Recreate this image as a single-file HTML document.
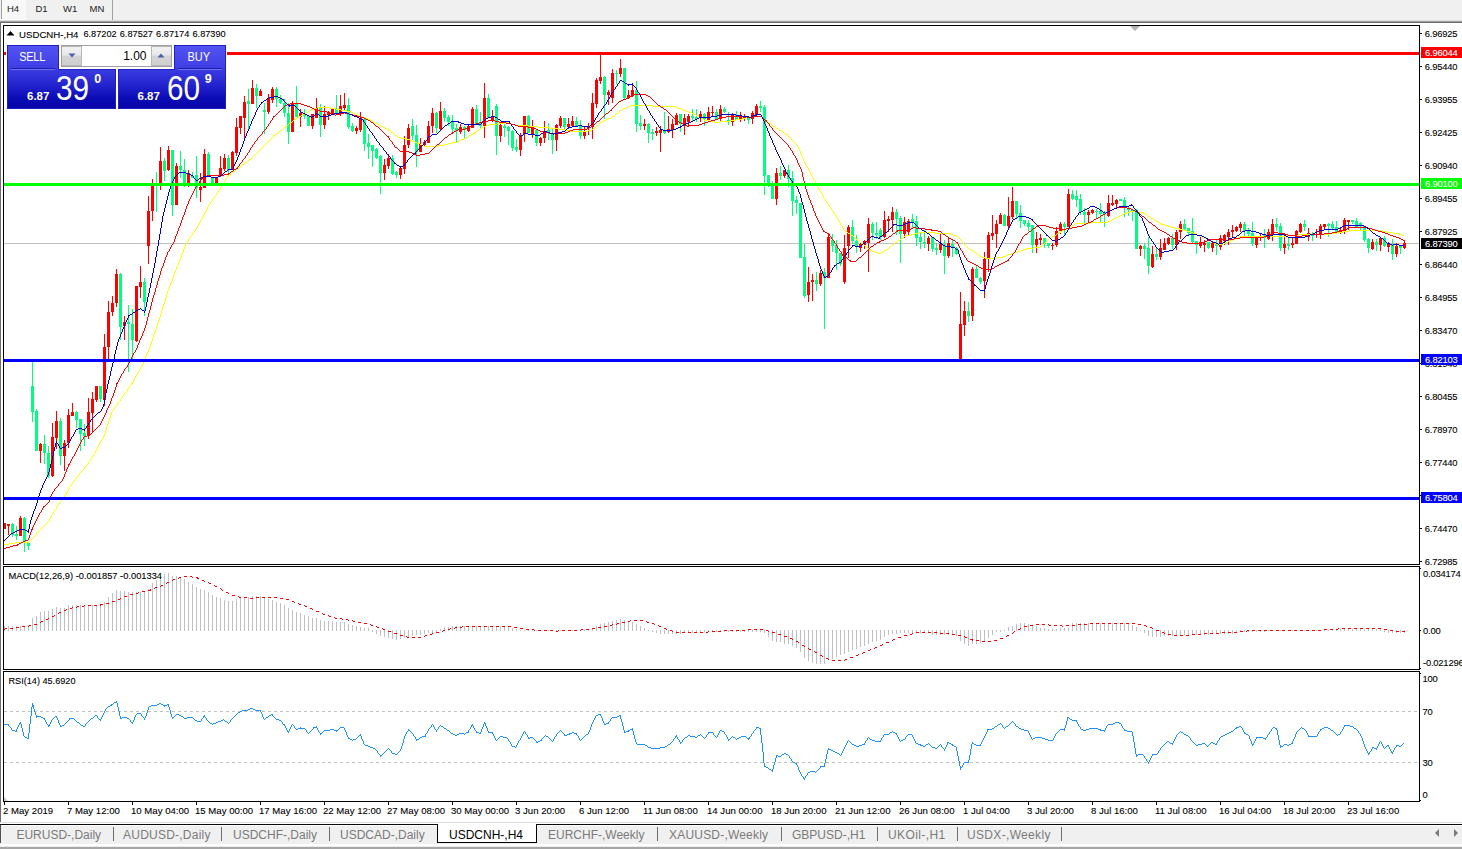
<!DOCTYPE html>
<html><head><meta charset="utf-8"><title>USDCNH-,H4</title>
<style>
html,body{margin:0;padding:0;overflow:hidden;}
body{width:1462px;height:849px;overflow:hidden;background:#fff;font-family:"Liberation Sans",sans-serif;position:relative;color:#000;}
.abs{position:absolute;}
.tb{position:absolute;left:0;top:0;width:1462px;height:20px;background:#f0f0f0;}
.tf{position:absolute;top:2.9px;font-size:9.5px;color:#222;white-space:pre;line-height:11px;}
.ax{position:absolute;left:1424.8px;font-size:9.4px;letter-spacing:-0.2px;line-height:10px;white-space:pre;color:#000;-webkit-text-stroke:0.1px #000;}
.tk{position:absolute;left:1420px;width:2px;height:1px;background:#000;}
.pl{position:absolute;left:1421px;width:41px;height:11px;font-size:9.4px;letter-spacing:-0.2px;line-height:11px;color:#fff;white-space:pre;-webkit-text-stroke:0.1px #fff;}
.pl span{position:absolute;left:4px;top:0;}
.tl{position:absolute;top:804.6px;font-size:9.6px;line-height:11px;white-space:pre;color:#000;-webkit-text-stroke:0.1px #000;}
.tt{position:absolute;top:801px;width:1px;height:4px;background:#000;}
.lbl{position:absolute;font-size:9.3px;line-height:11px;white-space:pre;color:#000;-webkit-text-stroke:0.1px #000;}
.tab{position:absolute;top:827.9px;font-size:12px;line-height:14px;color:#7a7a7a;white-space:pre;}
.sep{position:absolute;top:827px;width:1px;height:14px;background:#6e6e6e;}
</style></head><body>

<div class="tb"></div>
<div class="abs" style="left:1px;top:0;width:1px;height:19px;background:#a0a0a0"></div>
<div class="abs" style="left:2px;top:0;width:24px;height:19px;background:#f8f8f8"></div>
<div class="abs" style="left:0;top:19px;width:27px;height:2px;background:#fafafa"></div>
<div class="abs" style="left:112px;top:0;width:1px;height:21px;background:#a0a0a0"></div>
<div class="tf" style="left:7px">H4</div>
<div class="tf" style="left:35.5px">D1</div>
<div class="tf" style="left:63px">W1</div>
<div class="tf" style="left:89.5px">MN</div>
<div class="abs" style="left:0;top:20px;width:1462px;height:1px;background:#dcdcdc"></div>
<div class="abs" style="left:0;top:21px;width:1462px;height:1px;background:#a0a0a0"></div>
<div class="abs" style="left:0;top:22px;width:1462px;height:1px;background:#696969"></div>
<div class="abs" style="left:0;top:23px;width:1px;height:799px;background:#6e6e6e"></div>
<div class="abs" style="left:3px;top:25px;width:1417px;height:1px;background:#000"></div>
<div class="abs" style="left:3px;top:564px;width:1417px;height:1px;background:#000"></div>
<div class="abs" style="left:3px;top:25px;width:1px;height:540px;background:#000"></div>
<div class="abs" style="left:1419px;top:25px;width:1px;height:540px;background:#000"></div>
<div class="abs" style="left:3px;top:566px;width:1417px;height:1px;background:#000"></div>
<div class="abs" style="left:3px;top:669px;width:1417px;height:1px;background:#000"></div>
<div class="abs" style="left:3px;top:566px;width:1px;height:104px;background:#000"></div>
<div class="abs" style="left:1419px;top:566px;width:1px;height:104px;background:#000"></div>
<div class="abs" style="left:3px;top:671px;width:1417px;height:1px;background:#000"></div>
<div class="abs" style="left:3px;top:801px;width:1417px;height:1px;background:#000"></div>
<div class="abs" style="left:3px;top:671px;width:1px;height:131px;background:#000"></div>
<div class="abs" style="left:1419px;top:671px;width:1px;height:131px;background:#000"></div>
<svg class="abs" style="left:0;top:0" width="1462" height="849" viewBox="0 0 1462 849" shape-rendering="crispEdges">
<defs><clipPath id="cm"><rect x="4" y="26" width="1415" height="538"/></clipPath></defs>
<g clip-path="url(#cm)">
<rect x="4" y="243" width="1415" height="1" fill="#c0c0c0"/>
<path fill="#00ff7f" d="M12 523h1v14h-1zM11 524h3v11h-3zM16 526h1v14h-1zM15 534h3v2h-3zM24 517h1v35h-1zM23 518h3v24h-3zM28 542h1v8h-1zM27 543h3v3h-3zM32 362h1v60h-1zM31 386h3v26h-3zM36 409h1v42h-1zM35 411h3v40h-3zM44 435h1v29h-1zM43 444h3v9h-3zM48 446h1v32h-1zM47 453h3v23h-3zM60 418h1v47h-1zM59 421h3v35h-3zM76 411h1v17h-1zM75 412h3v8h-3zM80 419h1v32h-1zM79 419h3v15h-3zM84 424h1v22h-1zM83 433h3v3h-3zM100 386h1v16h-1zM99 386h3v13h-3zM120 273h1v67h-1zM119 274h3v53h-3zM128 305h1v67h-1zM127 322h3v2h-3zM132 309h1v53h-1zM131 324h3v16h-3zM144 278h1v38h-1zM143 282h3v20h-3zM156 172h1v40h-1zM155 184h3v2h-3zM164 158h1v23h-1zM163 161h3v10h-3zM172 150h1v66h-1zM171 150h3v55h-3zM180 151h1v27h-1zM179 166h3v4h-3zM184 159h1v28h-1zM183 170h3v14h-3zM192 172h1v6h-1zM191 176h3v2h-3zM196 156h1v42h-1zM195 175h3v13h-3zM208 152h1v24h-1zM207 154h3v22h-3zM212 177h1v7h-1zM211 177h3v7h-3zM228 155h1v21h-1zM227 158h3v12h-3zM248 89h1v40h-1zM247 101h3v3h-3zM256 84h1v24h-1zM255 88h3v8h-3zM264 103h1v31h-1zM263 110h3v2h-3zM276 87h1v20h-1zM275 89h3v10h-3zM280 95h1v9h-1zM279 99h3v4h-3zM284 99h1v18h-1zM283 103h3v10h-3zM288 103h1v41h-1zM287 113h3v19h-3zM296 86h1v31h-1zM295 103h3v14h-3zM304 109h1v10h-1zM303 114h3v2h-3zM308 116h1v10h-1zM307 116h3v10h-3zM320 104h1v33h-1zM319 108h3v17h-3zM336 95h1v19h-1zM335 109h3v5h-3zM348 98h1v31h-1zM347 105h3v22h-3zM352 123h1v9h-1zM351 126h3v5h-3zM364 119h1v32h-1zM363 119h3v25h-3zM368 134h1v25h-1zM367 143h3v4h-3zM372 145h1v22h-1zM371 145h3v6h-3zM376 148h1v11h-1zM375 149h3v9h-3zM380 155h1v39h-1zM379 156h3v17h-3zM392 155h1v20h-1zM391 158h3v16h-3zM396 171h1v7h-1zM395 172h3v3h-3zM412 119h1v21h-1zM411 126h3v10h-3zM416 125h1v42h-1zM415 135h3v17h-3zM436 112h1v21h-1zM435 113h3v15h-3zM444 108h1v14h-1zM443 111h3v7h-3zM448 115h1v11h-1zM447 117h3v5h-3zM452 115h1v18h-1zM451 122h3v7h-3zM456 124h1v18h-1zM455 128h3v3h-3zM464 126h1v12h-1zM463 127h3v3h-3zM476 105h1v19h-1zM475 109h3v15h-3zM480 112h1v17h-1zM479 122h3v4h-3zM488 94h1v24h-1zM487 98h3v20h-3zM496 104h1v51h-1zM495 106h3v30h-3zM504 124h1v13h-1zM503 126h3v2h-3zM508 126h1v19h-1zM507 127h3v4h-3zM512 130h1v21h-1zM511 131h3v17h-3zM516 139h1v13h-1zM515 147h3v3h-3zM528 115h1v18h-1zM527 116h3v17h-3zM536 129h1v17h-1zM535 130h3v13h-3zM548 123h1v17h-1zM547 130h3v3h-3zM552 129h1v25h-1zM551 134h3v6h-3zM564 118h1v11h-1zM563 118h3v9h-3zM576 117h1v10h-1zM575 121h3v5h-3zM580 120h1v19h-1zM579 126h3v10h-3zM604 76h1v43h-1zM603 77h3v18h-3zM616 70h1v14h-1zM615 73h3v1h-3zM624 68h1v31h-1zM623 68h3v30h-3zM636 81h1v51h-1zM635 90h3v34h-3zM640 115h1v15h-1zM639 123h3v3h-3zM648 123h1v20h-1zM647 124h3v9h-3zM652 129h1v11h-1zM651 132h3v2h-3zM664 112h1v22h-1zM663 130h3v3h-3zM680 114h1v18h-1zM679 114h3v10h-3zM692 109h1v12h-1zM691 116h3v2h-3zM696 109h1v13h-1zM695 117h3v2h-3zM704 113h1v13h-1zM703 114h3v5h-3zM716 109h1v10h-1zM715 112h3v7h-3zM724 107h1v6h-1zM723 109h3v3h-3zM728 112h1v13h-1zM727 120h3v1h-3zM736 111h1v9h-1zM735 115h3v5h-3zM748 116h1v8h-1zM747 118h3v2h-3zM760 101h1v11h-1zM759 106h3v2h-3zM764 105h1v90h-1zM763 107h3v69h-3zM768 175h1v12h-1zM767 175h3v11h-3zM772 181h1v18h-1zM771 186h3v13h-3zM780 166h1v14h-1zM779 173h3v3h-3zM788 165h1v22h-1zM787 170h3v9h-3zM792 171h1v45h-1zM791 178h3v23h-3zM796 196h1v18h-1zM795 200h3v3h-3zM800 203h1v55h-1zM799 203h3v55h-3zM804 244h1v54h-1zM803 257h3v39h-3zM816 272h1v19h-1zM815 280h3v4h-3zM824 268h1v61h-1zM823 272h3v6h-3zM832 234h1v18h-1zM831 240h3v6h-3zM836 240h1v30h-1zM835 245h3v8h-3zM840 253h1v13h-1zM839 253h3v11h-3zM852 220h1v24h-1zM851 227h3v14h-3zM856 235h1v18h-1zM855 241h3v5h-3zM872 222h1v18h-1zM871 224h3v9h-3zM876 222h1v17h-1zM875 233h3v2h-3zM880 228h1v12h-1zM879 230h3v7h-3zM896 209h1v26h-1zM895 212h3v7h-3zM900 216h1v47h-1zM899 218h3v16h-3zM912 214h1v14h-1zM911 219h3v3h-3zM916 216h1v30h-1zM915 221h3v17h-3zM920 232h1v17h-1zM919 237h3v5h-3zM924 230h1v18h-1zM923 242h3v2h-3zM932 237h1v15h-1zM931 237h3v12h-3zM936 243h1v12h-1zM935 248h3v2h-3zM944 240h1v34h-1zM943 244h3v12h-3zM952 240h1v17h-1zM951 244h3v3h-3zM956 247h1v8h-1zM955 248h3v6h-3zM968 302h1v20h-1zM967 311h3v5h-3zM976 265h1v13h-1zM975 269h3v9h-3zM980 277h1v7h-1zM979 278h3v4h-3zM1004 214h1v12h-1zM1003 215h3v11h-3zM1016 201h1v17h-1zM1015 201h3v13h-3zM1020 205h1v23h-1zM1019 213h3v8h-3zM1024 220h1v6h-1zM1023 220h3v4h-3zM1028 220h1v11h-1zM1027 223h3v4h-3zM1032 225h1v28h-1zM1031 225h3v20h-3zM1044 238h1v10h-1zM1043 238h3v6h-3zM1048 243h1v5h-1zM1047 243h3v3h-3zM1064 222h1v14h-1zM1063 224h3v3h-3zM1072 190h1v10h-1zM1071 194h3v5h-3zM1076 190h1v17h-1zM1075 196h3v4h-3zM1080 194h1v21h-1zM1079 199h3v13h-3zM1084 208h1v15h-1zM1083 212h3v3h-3zM1096 209h1v10h-1zM1095 211h3v1h-3zM1100 203h1v19h-1zM1099 211h3v3h-3zM1104 211h1v16h-1zM1103 212h3v2h-3zM1120 199h1v2h-1zM1119 199h3v2h-3zM1124 197h1v20h-1zM1123 200h3v7h-3zM1128 207h1v9h-1zM1127 208h3v2h-3zM1132 209h1v12h-1zM1131 210h3v2h-3zM1136 209h1v40h-1zM1135 210h3v39h-3zM1144 243h1v16h-1zM1143 246h3v3h-3zM1148 237h1v37h-1zM1147 248h3v18h-3zM1156 247h1v13h-1zM1155 254h3v3h-3zM1172 234h1v15h-1zM1171 238h3v7h-3zM1184 219h1v12h-1zM1183 224h3v5h-3zM1188 228h1v8h-1zM1187 228h3v5h-3zM1192 218h1v25h-1zM1191 231h3v11h-3zM1196 241h1v13h-1zM1195 241h3v4h-3zM1208 242h1v7h-1zM1207 242h3v6h-3zM1216 240h1v15h-1zM1215 244h3v2h-3zM1244 222h1v14h-1zM1243 224h3v7h-3zM1248 228h1v8h-1zM1247 231h3v3h-3zM1252 222h1v24h-1zM1251 233h3v11h-3zM1264 229h1v19h-1zM1263 234h3v4h-3zM1276 218h1v13h-1zM1275 224h3v3h-3zM1280 223h1v28h-1zM1279 226h3v22h-3zM1288 238h1v12h-1zM1287 244h3v2h-3zM1304 220h1v11h-1zM1303 224h3v3h-3zM1312 232h1v9h-1zM1311 234h3v2h-3zM1328 223h1v14h-1zM1327 224h3v2h-3zM1332 221h1v8h-1zM1331 224h3v4h-3zM1336 221h1v11h-1zM1335 227h3v5h-3zM1352 220h1v4h-1zM1351 220h3v2h-3zM1356 218h1v9h-1zM1355 221h3v6h-3zM1360 222h1v8h-1zM1359 223h3v3h-3zM1364 226h1v16h-1zM1363 226h3v14h-3zM1368 238h1v15h-1zM1367 239h3v9h-3zM1376 239h1v12h-1zM1375 242h3v3h-3zM1384 236h1v11h-1zM1383 238h3v8h-3zM1392 239h1v21h-1zM1391 244h3v10h-3zM1400 245h1v9h-1zM1399 246h3v2h-3z"/>
<path fill="#ff0000" d="M4 523h1v6h-1zM3 523h3v6h-3zM8 524h1v11h-1zM7 524h3v2h-3zM20 516h1v20h-1zM19 518h3v18h-3zM40 443h1v20h-1zM39 444h3v7h-3zM52 423h1v54h-1zM51 437h3v39h-3zM56 411h1v38h-1zM55 421h3v17h-3zM64 440h1v31h-1zM63 443h3v13h-3zM68 409h1v39h-1zM67 415h3v28h-3zM72 403h1v13h-1zM71 412h3v4h-3zM88 398h1v41h-1zM87 412h3v24h-3zM92 392h1v41h-1zM91 399h3v14h-3zM96 386h1v16h-1zM95 386h3v14h-3zM104 334h1v72h-1zM103 347h3v53h-3zM108 301h1v58h-1zM107 312h3v35h-3zM112 296h1v20h-1zM111 303h3v9h-3zM116 269h1v38h-1zM115 274h3v29h-3zM124 316h1v24h-1zM123 322h3v4h-3zM136 286h1v56h-1zM135 286h3v55h-3zM140 266h1v32h-1zM139 282h3v5h-3zM148 196h1v68h-1zM147 211h3v35h-3zM152 179h1v42h-1zM151 186h3v25h-3zM160 147h1v43h-1zM159 161h3v25h-3zM168 146h1v25h-1zM167 150h3v20h-3zM176 163h1v42h-1zM175 166h3v39h-3zM188 170h1v17h-1zM187 173h3v11h-3zM200 173h1v29h-1zM199 187h3v3h-3zM204 149h1v39h-1zM203 154h3v34h-3zM216 177h1v7h-1zM215 177h3v7h-3zM220 156h1v20h-1zM219 168h3v8h-3zM224 154h1v17h-1zM223 158h3v11h-3zM232 151h1v19h-1zM231 152h3v18h-3zM236 118h1v38h-1zM235 127h3v26h-3zM240 116h1v18h-1zM239 116h3v12h-3zM244 96h1v44h-1zM243 102h3v16h-3zM252 80h1v24h-1zM251 88h3v16h-3zM260 89h1v7h-1zM259 91h3v5h-3zM268 94h1v20h-1zM267 98h3v14h-3zM272 87h1v16h-1zM271 89h3v11h-3zM292 101h1v31h-1zM291 103h3v29h-3zM300 109h1v18h-1zM299 113h3v4h-3zM312 114h1v15h-1zM311 114h3v12h-3zM316 98h1v20h-1zM315 108h3v10h-3zM324 106h1v23h-1zM323 114h3v11h-3zM328 111h1v9h-1zM327 113h3v2h-3zM332 109h1v6h-1zM331 109h3v6h-3zM340 95h1v21h-1zM339 106h3v8h-3zM344 93h1v18h-1zM343 105h3v3h-3zM356 126h1v8h-1zM355 128h3v3h-3zM360 112h1v20h-1zM359 118h3v12h-3zM384 159h1v21h-1zM383 165h3v8h-3zM388 154h1v15h-1zM387 158h3v8h-3zM400 167h1v12h-1zM399 168h3v7h-3zM404 136h1v38h-1zM403 145h3v24h-3zM408 124h1v24h-1zM407 128h3v17h-3zM420 138h1v14h-1zM419 144h3v8h-3zM424 140h1v6h-1zM423 142h3v3h-3zM428 121h1v22h-1zM427 126h3v17h-3zM432 108h1v25h-1zM431 113h3v13h-3zM440 102h1v28h-1zM439 111h3v18h-3zM460 124h1v10h-1zM459 127h3v5h-3zM468 124h1v8h-1zM467 126h3v5h-3zM472 107h1v21h-1zM471 109h3v19h-3zM484 83h1v55h-1zM483 98h3v28h-3zM492 110h1v12h-1zM491 117h3v4h-3zM500 124h1v18h-1zM499 125h3v11h-3zM520 133h1v23h-1zM519 135h3v15h-3zM524 116h1v26h-1zM523 116h3v18h-3zM532 120h1v18h-1zM531 127h3v7h-3zM540 137h1v9h-1zM539 138h3v5h-3zM544 121h1v22h-1zM543 131h3v7h-3zM556 124h1v27h-1zM555 125h3v15h-3zM560 116h1v12h-1zM559 118h3v8h-3zM568 118h1v11h-1zM567 124h3v3h-3zM572 116h1v10h-1zM571 121h3v5h-3zM584 127h1v12h-1zM583 131h3v5h-3zM588 123h1v12h-1zM587 126h3v2h-3zM592 93h1v46h-1zM591 103h3v24h-3zM596 78h1v30h-1zM595 80h3v24h-3zM600 55h1v29h-1zM599 77h3v4h-3zM608 90h1v15h-1zM607 92h3v3h-3zM612 69h1v34h-1zM611 73h3v25h-3zM620 59h1v18h-1zM619 68h3v6h-3zM628 90h1v9h-1zM627 95h3v3h-3zM632 83h1v14h-1zM631 90h3v6h-3zM644 119h1v11h-1zM643 124h3v2h-3zM656 127h1v9h-1zM655 131h3v2h-3zM660 126h1v26h-1zM659 130h3v3h-3zM668 116h1v17h-1zM667 129h3v3h-3zM672 119h1v19h-1zM671 124h3v6h-3zM676 113h1v12h-1zM675 115h3v10h-3zM684 114h1v21h-1zM683 118h3v7h-3zM688 114h1v12h-1zM687 116h3v6h-3zM700 111h1v11h-1zM699 114h3v4h-3zM708 107h1v13h-1zM707 112h3v8h-3zM712 106h1v10h-1zM711 112h3v1h-3zM720 105h1v16h-1zM719 109h3v10h-3zM732 113h1v13h-1zM731 115h3v7h-3zM740 112h1v10h-1zM739 116h3v3h-3zM744 114h1v7h-1zM743 116h3v2h-3zM752 111h1v13h-1zM751 113h3v6h-3zM756 104h1v11h-1zM755 106h3v9h-3zM776 168h1v37h-1zM775 173h3v26h-3zM784 170h1v8h-1zM783 170h3v6h-3zM808 267h1v35h-1zM807 282h3v13h-3zM812 274h1v27h-1zM811 280h3v2h-3zM820 270h1v16h-1zM819 273h3v11h-3zM828 233h1v45h-1zM827 237h3v41h-3zM844 235h1v49h-1zM843 248h3v34h-3zM848 225h1v33h-1zM847 227h3v19h-3zM860 243h1v9h-1zM859 244h3v4h-3zM864 240h1v9h-1zM863 241h3v4h-3zM868 218h1v54h-1zM867 224h3v19h-3zM884 211h1v27h-1zM883 220h3v17h-3zM888 216h1v16h-1zM887 219h3v2h-3zM892 207h1v25h-1zM891 212h3v8h-3zM904 217h1v21h-1zM903 222h3v12h-3zM908 219h1v16h-1zM907 221h3v11h-3zM928 236h1v15h-1zM927 238h3v6h-3zM940 234h1v19h-1zM939 244h3v6h-3zM948 237h1v21h-1zM947 243h3v13h-3zM960 292h1v67h-1zM959 324h3v35h-3zM964 301h1v35h-1zM963 311h3v14h-3zM972 267h1v54h-1zM971 269h3v47h-3zM984 252h1v46h-1zM983 259h3v22h-3zM988 232h1v40h-1zM987 235h3v24h-3zM992 215h1v25h-1zM991 233h3v3h-3zM996 220h1v28h-1zM995 224h3v10h-3zM1000 213h1v11h-1zM999 215h3v9h-3zM1008 197h1v32h-1zM1007 216h3v10h-3zM1012 187h1v32h-1zM1011 201h3v16h-3zM1036 232h1v21h-1zM1035 239h3v6h-3zM1040 234h1v11h-1zM1039 238h3v2h-3zM1052 243h1v7h-1zM1051 245h3v1h-3zM1056 227h1v20h-1zM1055 231h3v14h-3zM1060 222h1v12h-1zM1059 224h3v7h-3zM1068 189h1v38h-1zM1067 194h3v33h-3zM1088 210h1v12h-1zM1087 212h3v3h-3zM1092 209h1v5h-1zM1091 210h3v3h-3zM1108 195h1v22h-1zM1107 203h3v13h-3zM1112 195h1v11h-1zM1111 203h3v2h-3zM1116 199h1v8h-1zM1115 200h3v4h-3zM1140 245h1v11h-1zM1139 246h3v3h-3zM1152 246h1v22h-1zM1151 254h3v13h-3zM1160 239h1v21h-1zM1159 248h3v9h-3zM1164 238h1v12h-1zM1163 243h3v7h-3zM1168 237h1v8h-1zM1167 238h3v6h-3zM1176 230h1v20h-1zM1175 232h3v13h-3zM1180 221h1v18h-1zM1179 224h3v8h-3zM1200 237h1v11h-1zM1199 242h3v4h-3zM1204 240h1v12h-1zM1203 243h3v2h-3zM1212 242h1v10h-1zM1211 243h3v5h-3zM1220 235h1v15h-1zM1219 238h3v9h-3zM1224 234h1v11h-1zM1223 235h3v6h-3zM1228 229h1v16h-1zM1227 232h3v5h-3zM1232 225h1v13h-1zM1231 230h3v2h-3zM1236 226h1v6h-1zM1235 227h3v4h-3zM1240 222h1v10h-1zM1239 224h3v4h-3zM1256 236h1v12h-1zM1255 237h3v8h-3zM1260 234h1v7h-1zM1259 237h3v1h-3zM1268 229h1v11h-1zM1267 232h3v7h-3zM1272 219h1v22h-1zM1271 224h3v10h-3zM1284 233h1v21h-1zM1283 244h3v4h-3zM1292 238h1v10h-1zM1291 243h3v2h-3zM1296 230h1v14h-1zM1295 231h3v13h-3zM1300 223h1v10h-1zM1299 224h3v8h-3zM1308 228h1v13h-1zM1307 233h3v4h-3zM1316 229h1v9h-1zM1315 234h3v1h-3zM1320 224h1v15h-1zM1319 226h3v8h-3zM1324 224h1v5h-1zM1323 224h3v3h-3zM1340 228h1v6h-1zM1339 230h3v2h-3zM1344 218h1v16h-1zM1343 220h3v11h-3zM1348 220h1v10h-1zM1347 220h3v2h-3zM1372 239h1v11h-1zM1371 242h3v7h-3zM1380 237h1v14h-1zM1379 238h3v7h-3zM1388 242h1v10h-1zM1387 243h3v4h-3zM1396 243h1v14h-1zM1395 246h3v8h-3zM1404 241h1v8h-1zM1403 243h3v5h-3z"/>
<path fill="#ffff00" d="M628 106h2v1h-2zM653 106h23v1h-23zM1130 211h8v1h-8zM848 233h2v1h-2zM915 233h4v1h-4zM935 233h16v1h-16zM1057 233h2v1h-2zM1193 233h3v1h-3zM1329 233h8v1h-8zM1393 233h6v1h-6zM904 236h2v1h-2zM956 236h2v1h-2zM1052 236h2v1h-2zM1201 236h2v1h-2zM1240 236h46v1h-46zM15 542h14v1h-14zM276 133h2v1h-2zM473 133h2v1h-2zM784 133h2v1h-2zM311 109h2v1h-2zM336 109h5v1h-5zM681 109h2v1h-2zM385 128h2v1h-2zM480 128h2v1h-2zM550 128h9v1h-9zM593 128h2v1h-2zM776 128h2v1h-2zM571 131h17v1h-17zM781 131h2v1h-2zM284 127h2v1h-2zM383 127h2v1h-2zM482 127h2v1h-2zM538 127h12v1h-12zM370 120h2v1h-2zM604 120h2v1h-2zM704 120h5v1h-5zM730 120h6v1h-6zM765 120h2v1h-2zM1072 225h2v1h-2zM1165 225h3v1h-3zM1090 222h18v1h-18zM1158 222h2v1h-2zM1216 244h7v1h-7zM299 116h2v1h-2zM359 116h3v1h-3zM612 116h2v1h-2zM752 116h10v1h-10zM982 257h3v1h-3zM997 257h6v1h-6zM911 234h4v1h-4zM951 234h2v1h-2zM1196 234h2v1h-2zM1298 234h31v1h-31zM1399 234h3v1h-3zM406 139h4v1h-4zM461 139h3v1h-3zM280 130h2v1h-2zM388 130h2v1h-2zM477 130h2v1h-2zM565 130h6v1h-6zM588 130h4v1h-4zM779 130h2v1h-2zM630 105h23v1h-23zM317 107h13v1h-13zM626 107h2v1h-2zM676 107h2v1h-2zM424 146h3v1h-3zM428 146h10v1h-10zM1161 224h4v1h-4zM391 132h2v1h-2zM474 132h2v1h-2zM985 258h12v1h-12zM1033 247h7v1h-7zM1114 218h2v1h-2zM1151 218h2v1h-2zM1075 223h15v1h-15zM1160 223h2v1h-2zM895 242h2v1h-2zM1225 242h3v1h-3zM851 235h2v1h-2zM906 235h5v1h-5zM953 235h3v1h-3zM1054 235h2v1h-2zM1198 235h3v1h-3zM1285 235h13v1h-13zM1402 235h2v1h-2zM294 119h2v1h-2zM368 119h2v1h-2zM606 119h2v1h-2zM736 119h6v1h-6zM1062 230h2v1h-2zM1183 230h4v1h-4zM1349 230h32v1h-32zM9 543h6v1h-6zM1211 241h2v1h-2zM1228 241h2v1h-2zM1124 213h3v1h-3zM1143 213h2v1h-2zM422 145h2v1h-2zM438 145h6v1h-6zM245 162h2v1h-2zM238 167h2v1h-2zM273 135h2v1h-2zM395 135h2v1h-2zM469 135h2v1h-2zM398 137h3v1h-3zM466 137h2v1h-2zM347 111h4v1h-4zM686 111h3v1h-3zM410 140h2v1h-2zM459 140h2v1h-2zM420 144h2v1h-2zM444 144h4v1h-4zM387 129h2v1h-2zM559 129h6v1h-6zM377 124h2v1h-2zM489 124h8v1h-8zM512 124h3v1h-3zM297 117h2v1h-2zM362 117h3v1h-3zM699 117h2v1h-2zM746 117h6v1h-6zM1064 229h2v1h-2zM1179 229h4v1h-4zM309 110h2v1h-2zM341 110h6v1h-6zM620 110h2v1h-2zM683 110h3v1h-3zM415 142h2v1h-2zM452 142h5v1h-5zM306 112h2v1h-2zM351 112h2v1h-2zM689 112h3v1h-3zM602 121h2v1h-2zM709 121h5v1h-5zM720 121h10v1h-10zM304 113h2v1h-2zM353 113h2v1h-2zM616 113h2v1h-2zM692 113h2v1h-2zM381 126h2v1h-2zM484 126h2v1h-2zM529 126h9v1h-9zM773 126h2v1h-2zM249 159h2v1h-2zM379 125h2v1h-2zM486 125h3v1h-3zM515 125h14v1h-14zM898 240h2v1h-2zM1209 240h2v1h-2zM1230 240h3v1h-3zM919 232h16v1h-16zM1059 232h2v1h-2zM1190 232h3v1h-3zM1337 232h6v1h-6zM1387 232h6v1h-6zM412 141h3v1h-3zM457 141h2v1h-2zM1110 220h2v1h-2zM891 245h2v1h-2zM1070 226h2v1h-2zM1168 226h3v1h-3zM295 118h2v1h-2zM365 118h3v1h-3zM608 118h3v1h-3zM701 118h2v1h-2zM742 118h4v1h-4zM875 252h3v1h-3zM881 252h2v1h-2zM974 252h2v1h-2zM1014 252h3v1h-3zM289 123h2v1h-2zM375 123h2v1h-2zM497 123h7v1h-7zM510 123h2v1h-2zM769 123h2v1h-2zM869 249h2v1h-2zM886 249h2v1h-2zM969 249h2v1h-2zM1023 249h4v1h-4zM302 114h2v1h-2zM355 114h2v1h-2zM694 114h2v1h-2zM313 108h4v1h-4zM330 108h6v1h-6zM623 108h3v1h-3zM678 108h3v1h-3zM1026 248h7v1h-7zM845 231h2v1h-2zM1060 231h2v1h-2zM1187 231h3v1h-3zM1343 231h6v1h-6zM1381 231h6v1h-6zM1127 212h3v1h-3zM1138 212h6v1h-6zM861 243h2v1h-2zM1214 243h2v1h-2zM1223 243h2v1h-2zM856 239h2v1h-2zM1207 239h2v1h-2zM1233 239h2v1h-2zM1108 221h2v1h-2zM1156 221h2v1h-2zM1066 228h2v1h-2zM1175 228h5v1h-5zM884 250h2v1h-2zM971 250h2v1h-2zM1020 250h3v1h-3zM980 256h2v1h-2zM1003 256h3v1h-3zM221 185h2v1h-2zM878 253h3v1h-3zM1011 253h3v1h-3zM977 254h2v1h-2zM1008 254h3v1h-3zM865 246h2v1h-2zM1040 246h2v1h-2zM373 122h2v1h-2zM504 122h6v1h-6zM600 122h2v1h-2zM714 122h6v1h-6zM901 238h2v1h-2zM1049 238h2v1h-2zM1205 238h2v1h-2zM1235 238h3v1h-3zM1203 237h2v1h-2zM1238 237h2v1h-2zM1122 214h2v1h-2zM1145 214h2v1h-2zM417 143h3v1h-3zM448 143h4v1h-4zM872 251h3v1h-3zM1017 251h3v1h-3zM1118 216h2v1h-2zM1148 216h2v1h-2zM1068 227h2v1h-2zM1171 227h4v1h-4zM228 175h2v1h-2zM401 138h5v1h-5zM464 138h2v1h-2zM65 494h2v1h-2zM471 134h2v1h-2zM786 134h2v1h-2zM1006 255h2v1h-2zM1116 217h2v1h-2zM1112 219h2v1h-2zM1153 219h2v1h-2zM233 171h2v1h-2zM131 383h2v1h-2zM4 544h5v1h-5zM242 164h2v1h-2zM1120 215h2v1h-2zM357 115h2v1h-2zM696 115h2v1h-2zM149 347h1v2h-1zM218 190h1v2h-1zM815 181h1v2h-1zM798 147h1v2h-1zM273 136h1v1h-1zM114 408h1v1h-1zM58 504h1v1h-1zM153 335h1v3h-1zM61 499h1v2h-1zM808 168h1v2h-1zM126 391h1v1h-1zM199 222h1v2h-1zM50 517h1v2h-1zM85 466h1v1h-1zM121 398h1v1h-1zM790 138h1v1h-1zM133 380h1v2h-1zM270 139h1v1h-1zM597 125h1v1h-1zM45 524h1v1h-1zM961 240h1v1h-1zM110 415h1v3h-1zM261 148h1v1h-1zM171 281h1v2h-1zM863 244h1v1h-1zM77 476h1v1h-1zM195 229h1v2h-1zM3 545h1v1h-1zM797 145h1v2h-1zM840 223h1v2h-1zM800 151h1v3h-1zM162 307h1v3h-1zM105 430h1v4h-1zM150 344h1v3h-1zM174 272h1v3h-1zM889 247h1v1h-1zM829 205h1v2h-1zM837 218h1v1h-1zM775 127h1v1h-1zM211 201h1v1h-1zM109 418h1v3h-1zM154 332h1v3h-1zM166 294h1v4h-1zM615 114h1v1h-1zM178 262h1v3h-1zM190 236h1v2h-1zM893 244h1v1h-1zM170 283h1v3h-1zM833 211h1v2h-1zM811 174h1v2h-1zM157 323h1v3h-1zM241 165h1v1h-1zM897 241h1v1h-1zM230 174h1v1h-1zM137 373h1v2h-1zM804 161h1v2h-1zM183 249h1v3h-1zM703 119h1v1h-1zM104 434h1v2h-1zM1056 234h1v1h-1zM807 166h1v2h-1zM161 310h1v4h-1zM288 124h1v1h-1zM789 137h1v1h-1zM207 207h1v2h-1zM308 111h1v1h-1zM108 421h1v3h-1zM165 298h1v3h-1zM177 265h1v2h-1zM859 241h1v1h-1zM186 242h1v2h-1zM1045 242h1v1h-1zM73 481h1v2h-1zM205 211h1v2h-1zM141 366h1v1h-1zM771 124h1v1h-1zM843 228h1v2h-1zM100 441h1v2h-1zM214 196h1v2h-1zM160 314h1v3h-1zM844 230h1v1h-1zM57 505h1v2h-1zM619 111h1v1h-1zM198 224h1v2h-1zM836 216h1v2h-1zM49 519h1v2h-1zM265 144h1v1h-1zM117 403h1v2h-1zM120 399h1v2h-1zM858 240h1v1h-1zM40 529h1v1h-1zM129 386h1v2h-1zM256 153h1v1h-1zM64 495h1v2h-1zM88 462h1v2h-1zM292 121h1v1h-1zM202 217h1v2h-1zM803 158h1v3h-1zM53 512h1v2h-1zM76 477h1v2h-1zM145 356h1v3h-1zM169 286h1v3h-1zM124 393h1v2h-1zM767 121h1v1h-1zM173 275h1v3h-1zM253 156h1v1h-1zM148 349h1v3h-1zM698 116h1v1h-1zM964 244h1v1h-1zM189 238h1v1h-1zM152 338h1v3h-1zM1155 220h1v1h-1zM225 179h1v2h-1zM965 245h1v1h-1zM156 326h1v3h-1zM854 237h1v1h-1zM172 278h1v3h-1zM599 123h1v1h-1zM979 255h1v1h-1zM185 244h1v3h-1zM151 341h1v3h-1zM221 186h1v1h-1zM224 181h1v2h-1zM810 172h1v2h-1zM140 367h1v2h-1zM132 382h1v1h-1zM99 443h1v2h-1zM44 525h1v1h-1zM903 237h1v1h-1zM260 149h1v1h-1zM56 507h1v2h-1zM32 538h1v1h-1zM275 134h1v1h-1zM71 484h1v2h-1zM136 375h1v1h-1zM232 172h1v1h-1zM888 248h1v1h-1zM103 436h1v2h-1zM279 131h1v1h-1zM831 208h1v2h-1zM839 221h1v2h-1zM107 424h1v3h-1zM236 169h1v1h-1zM60 501h1v1h-1zM84 467h1v2h-1zM164 301h1v3h-1zM762 117h1v1h-1zM87 464h1v1h-1zM111 412h1v3h-1zM217 192h1v1h-1zM168 289h1v2h-1zM272 137h1v1h-1zM123 395h1v1h-1zM67 491h1v1h-1zM263 146h1v1h-1zM181 254h1v3h-1zM806 165h1v1h-1zM79 473h1v2h-1zM147 352h1v2h-1zM809 170h1v2h-1zM94 453h1v1h-1zM197 226h1v2h-1zM791 139h1v1h-1zM850 234h1v1h-1zM192 233h1v2h-1zM397 136h1v1h-1zM792 140h1v1h-1zM864 245h1v1h-1zM184 247h1v2h-1zM251 158h1v1h-1zM842 226h1v2h-1zM1147 215h1v1h-1zM90 459h1v2h-1zM208 205h1v2h-1zM283 128h1v1h-1zM220 187h1v2h-1zM835 214h1v2h-1zM240 166h1v1h-1zM838 219h1v2h-1zM139 369h1v2h-1zM36 533h1v2h-1zM176 267h1v3h-1zM63 497h1v1h-1zM287 125h1v1h-1zM1047 240h1v1h-1zM244 163h1v1h-1zM155 329h1v3h-1zM1051 237h1v1h-1zM227 176h1v2h-1zM805 163h1v2h-1zM159 317h1v3h-1zM143 361h1v3h-1zM70 486h1v1h-1zM135 376h1v2h-1zM102 438h1v2h-1zM175 270h1v2h-1zM163 304h1v3h-1zM267 142h1v1h-1zM802 156h1v2h-1zM42 527h1v1h-1zM772 125h1v1h-1zM614 115h1v1h-1zM258 151h1v1h-1zM203 215h1v2h-1zM180 257h1v3h-1zM54 510h1v2h-1zM146 354h1v2h-1zM158 320h1v3h-1zM119 401h1v1h-1zM39 530h1v1h-1zM966 246h1v1h-1zM66 492h1v2h-1zM131 384h1v1h-1zM98 445h1v2h-1zM967 247h1v1h-1zM255 154h1v1h-1zM476 131h1v1h-1zM468 136h1v1h-1zM188 239h1v2h-1zM860 242h1v1h-1zM97 447h1v2h-1zM167 291h1v3h-1zM31 539h1v1h-1zM216 193h1v2h-1zM1042 245h1v1h-1zM959 238h1v1h-1zM122 396h1v2h-1zM598 124h1v1h-1zM93 454h1v2h-1zM223 183h1v1h-1zM820 191h1v1h-1zM262 147h1v1h-1zM78 475h1v1h-1zM101 440h1v1h-1zM34 536h1v1h-1zM37 532h1v1h-1zM958 237h1v1h-1zM210 202h1v2h-1zM768 122h1v1h-1zM890 246h1v1h-1zM787 135h1v1h-1zM179 260h1v2h-1zM231 173h1v1h-1zM191 235h1v1h-1zM801 154h1v2h-1zM278 132h1v1h-1zM113 409h1v2h-1zM235 170h1v1h-1zM182 252h1v2h-1zM86 465h1v1h-1zM89 461h1v1h-1zM293 120h1v1h-1zM823 196h1v2h-1zM206 209h1v2h-1zM855 238h1v1h-1zM46 523h1v1h-1zM69 487h1v2h-1zM819 189h1v2h-1zM81 471h1v1h-1zM592 129h1v1h-1zM816 183h1v2h-1zM269 140h1v1h-1zM764 119h1v1h-1zM596 126h1v1h-1zM194 231h1v1h-1zM894 243h1v1h-1zM372 121h1v1h-1zM219 189h1v1h-1zM962 241h1v2h-1zM29 541h1v1h-1zM793 141h1v1h-1zM144 359h1v2h-1zM822 194h1v2h-1zM976 253h1v1h-1zM763 118h1v1h-1zM794 142h1v1h-1zM125 392h1v1h-1zM826 201h1v1h-1zM778 129h1v1h-1zM41 528h1v1h-1zM257 152h1v1h-1zM68 489h1v2h-1zM92 456h1v2h-1zM825 199h1v2h-1zM116 405h1v1h-1zM128 388h1v1h-1zM818 187h1v2h-1zM900 239h1v1h-1zM821 192h1v2h-1zM291 122h1v1h-1zM72 483h1v1h-1zM52 514h1v1h-1zM96 449h1v2h-1zM248 160h1v1h-1zM968 248h1v1h-1zM394 134h1v1h-1zM226 178h1v1h-1zM33 537h1v1h-1zM1044 243h1v1h-1zM847 232h1v1h-1zM48 521h1v1h-1zM213 198h1v1h-1zM264 145h1v1h-1zM618 112h1v1h-1zM824 198h1v1h-1zM622 109h1v1h-1zM817 185h1v2h-1zM390 131h1v1h-1zM80 472h1v1h-1zM828 204h1v1h-1zM393 133h1v1h-1zM611 117h1v1h-1zM252 157h1v1h-1zM201 219h1v1h-1zM75 479h1v1h-1zM814 180h1v1h-1zM237 168h1v1h-1zM112 411h1v1h-1zM115 406h1v2h-1zM59 502h1v2h-1zM788 136h1v1h-1zM127 389h1v2h-1zM960 239h1v1h-1zM1074 224h1v1h-1zM83 469h1v1h-1zM95 451h1v2h-1zM799 149h1v2h-1zM268 141h1v1h-1zM795 143h1v1h-1zM813 178h1v2h-1zM595 127h1v1h-1zM43 526h1v1h-1zM832 210h1v1h-1zM55 509h1v1h-1zM796 144h1v1h-1zM193 232h1v1h-1zM209 204h1v1h-1zM106 427h1v3h-1zM871 250h1v1h-1zM1048 239h1v1h-1zM883 251h1v1h-1zM51 515h1v2h-1zM282 129h1v1h-1zM271 138h1v1h-1zM427 147h1v1h-1zM35 535h1v1h-1zM827 202h1v2h-1zM286 126h1v1h-1zM1046 241h1v1h-1zM963 243h1v1h-1zM142 364h1v2h-1zM783 132h1v1h-1zM134 378h1v2h-1zM812 176h1v2h-1zM212 199h1v2h-1zM259 150h1v1h-1zM204 213h1v2h-1zM196 228h1v1h-1zM138 371h1v2h-1zM91 458h1v1h-1zM47 522h1v1h-1zM1213 242h1v1h-1zM118 402h1v1h-1zM62 498h1v1h-1zM301 115h1v1h-1zM200 220h1v2h-1zM853 236h1v1h-1zM1043 244h1v1h-1zM187 241h1v1h-1zM867 247h1v1h-1zM1150 217h1v1h-1zM266 143h1v1h-1zM868 248h1v1h-1zM30 540h1v1h-1zM215 195h1v1h-1zM82 470h1v1h-1zM973 251h1v1h-1zM38 531h1v1h-1zM254 155h1v1h-1zM222 184h1v1h-1zM130 385h1v1h-1zM830 207h1v1h-1zM74 480h1v1h-1zM247 161h1v1h-1zM479 129h1v1h-1zM841 225h1v1h-1zM834 213h1v1h-1z"/>
<path fill="#ff0000" d="M823 231h2v1h-2zM896 231h2v1h-2zM938 231h3v1h-3zM1029 231h2v1h-2zM1162 231h2v1h-2zM1337 231h5v1h-5zM1378 231h4v1h-4zM416 155h4v1h-4zM979 267h2v1h-2zM884 239h2v1h-2zM951 239h2v1h-2zM1175 239h2v1h-2zM1209 239h15v1h-15zM1228 239h6v1h-6zM1401 239h2v1h-2zM330 113h2v1h-2zM340 113h4v1h-4zM345 113h4v1h-4zM606 113h2v1h-2zM911 228h2v1h-2zM916 228h9v1h-9zM1033 228h2v1h-2zM1053 228h6v1h-6zM1066 228h6v1h-6zM1347 228h2v1h-2zM1367 228h5v1h-5zM1038 225h8v1h-8zM1082 225h2v1h-2zM1153 225h2v1h-2zM458 129h7v1h-7zM536 129h2v1h-2zM573 129h14v1h-14zM943 234h2v1h-2zM1025 234h2v1h-2zM1167 234h2v1h-2zM1270 234h2v1h-2zM1284 234h4v1h-4zM1310 234h14v1h-14zM1388 234h2v1h-2zM1116 207h11v1h-11zM850 261h6v1h-6zM968 261h2v1h-2zM1005 261h2v1h-2zM879 241h2v1h-2zM1180 241h2v1h-2zM1204 241h3v1h-3zM476 123h3v1h-3zM506 123h5v1h-5zM681 123h2v1h-2zM702 123h3v1h-3zM1268 235h2v1h-2zM1288 235h9v1h-9zM1302 235h8v1h-8zM1390 235h3v1h-3zM412 153h2v1h-2zM425 153h4v1h-4zM1106 212h2v1h-2zM1137 212h2v1h-2zM273 116h2v1h-2zM357 116h4v1h-4zM726 116h21v1h-21zM752 116h10v1h-10zM913 227h3v1h-3zM1049 227h4v1h-4zM1072 227h5v1h-5zM1349 227h18v1h-18zM874 244h2v1h-2zM1110 210h2v1h-2zM1133 210h2v1h-2zM353 115h4v1h-4zM1101 215h2v1h-2zM364 118h2v1h-2zM718 118h4v1h-4zM972 263h2v1h-2zM1001 263h2v1h-2zM626 98h3v1h-3zM1240 237h24v1h-24zM1396 237h3v1h-3zM285 105h2v1h-2zM304 105h3v1h-3zM658 105h2v1h-2zM467 127h2v1h-2zM528 127h6v1h-6zM589 127h2v1h-2zM207 175h17v1h-17zM290 103h2v1h-2zM293 103h8v1h-8zM877 242h3v1h-3zM956 242h2v1h-2zM1182 242h5v1h-5zM1200 242h4v1h-4zM974 264h2v1h-2zM999 264h2v1h-2zM886 238h2v1h-2zM949 238h2v1h-2zM1173 238h2v1h-2zM1234 238h6v1h-6zM1399 238h2v1h-2zM361 117h3v1h-3zM722 117h4v1h-4zM747 117h5v1h-5zM376 126h2v1h-2zM469 126h2v1h-2zM518 126h10v1h-10zM591 126h2v1h-2zM687 126h2v1h-2zM1036 226h2v1h-2zM1046 226h3v1h-3zM1077 226h5v1h-5zM414 154h2v1h-2zM420 154h5v1h-5zM1088 222h3v1h-3zM1149 222h2v1h-2zM327 112h3v1h-3zM881 240h3v1h-3zM953 240h2v1h-2zM1177 240h3v1h-3zM1207 240h2v1h-2zM1224 240h4v1h-4zM1403 240h2v1h-2zM87 435h3v1h-3zM456 130h2v1h-2zM538 130h2v1h-2zM570 130h3v1h-3zM371 122h2v1h-2zM479 122h3v1h-3zM499 122h7v1h-7zM679 122h2v1h-2zM705 122h3v1h-3zM314 109h2v1h-2zM664 109h2v1h-2zM827 233h2v1h-2zM893 233h2v1h-2zM1272 233h2v1h-2zM1278 233h6v1h-6zM1324 233h8v1h-8zM1385 233h3v1h-3zM825 232h2v1h-2zM1164 232h2v1h-2zM1274 232h4v1h-4zM1332 232h5v1h-5zM1382 232h3v1h-3zM368 120h2v1h-2zM488 120h7v1h-7zM676 120h2v1h-2zM711 120h4v1h-4zM765 120h2v1h-2zM316 110h4v1h-4zM610 110h2v1h-2zM307 106h3v1h-3zM845 257h2v1h-2zM859 257h2v1h-2zM623 99h3v1h-3zM312 108h2v1h-2zM451 133h2v1h-2zM549 133h16v1h-16zM473 124h3v1h-3zM511 124h4v1h-4zM683 124h2v1h-2zM699 124h3v1h-3zM976 265h2v1h-2zM997 265h2v1h-2zM842 255h2v1h-2zM889 236h2v1h-2zM946 236h2v1h-2zM1170 236h2v1h-2zM1264 236h5v1h-5zM1297 236h5v1h-5zM1393 236h3v1h-3zM1114 208h2v1h-2zM1127 208h4v1h-4zM908 229h3v1h-3zM925 229h7v1h-7zM1059 229h7v1h-7zM1158 229h2v1h-2zM1372 229h3v1h-3zM1187 243h13v1h-13zM471 125h2v1h-2zM515 125h3v1h-3zM685 125h2v1h-2zM689 125h10v1h-10zM10 546h3v1h-3zM619 101h2v1h-2zM13 545h5v1h-5zM68 464h2v1h-2zM31 529h2v1h-2zM203 177h2v1h-2zM454 131h2v1h-2zM540 131h4v1h-4zM568 131h2v1h-2zM983 269h9v1h-9zM1112 209h2v1h-2zM1131 209h2v1h-2zM995 266h2v1h-2zM897 230h11v1h-11zM931 230h7v1h-7zM1160 230h2v1h-2zM1342 230h4v1h-4zM1375 230h3v1h-3zM634 94h12v1h-12zM320 111h7v1h-7zM630 96h2v1h-2zM648 96h2v1h-2zM449 134h2v1h-2zM400 151h9v1h-9zM43 506h2v1h-2zM332 114h3v1h-3zM336 114h4v1h-4zM349 114h4v1h-4zM465 128h2v1h-2zM534 128h2v1h-2zM587 128h2v1h-2zM231 171h2v1h-2zM849 260h2v1h-2zM1007 260h2v1h-2zM981 268h2v1h-2zM992 268h2v1h-2zM452 132h2v1h-2zM544 132h5v1h-5zM565 132h3v1h-3zM1096 218h2v1h-2zM970 262h2v1h-2zM1003 262h2v1h-2zM395 147h2v1h-2zM287 104h3v1h-3zM301 104h3v1h-3zM228 173h2v1h-2zM632 95h2v1h-2zM646 95h2v1h-2zM1108 211h2v1h-2zM1135 211h2v1h-2zM1086 223h2v1h-2zM1098 217h2v1h-2zM437 144h2v1h-2zM482 121h6v1h-6zM495 121h4v1h-4zM597 121h2v1h-2zM708 121h3v1h-3zM871 246h2v1h-2zM234 169h2v1h-2zM628 97h2v1h-2zM366 119h2v1h-2zM715 119h3v1h-3zM25 540h3v1h-3zM1103 214h2v1h-2zM409 152h3v1h-3zM310 107h2v1h-2zM661 107h2v1h-2zM1094 219h2v1h-2zM1091 221h2v1h-2zM21 542h2v1h-2zM84 436h3v1h-3zM17 544h2v1h-2zM387 136h2v1h-2zM6 547h4v1h-4zM1084 224h2v1h-2zM1142 216h2v1h-2zM205 176h2v1h-2zM224 174h5v1h-5zM201 178h2v1h-2zM445 137h2v1h-2zM621 100h2v1h-2zM236 168h2v1h-2zM3 548h3v1h-3zM116 383h2v1h-2zM23 541h2v1h-2zM19 543h2v1h-2zM398 149h1v1h-1zM114 390h1v3h-1zM804 181h1v4h-1zM601 118h1v1h-1zM94 430h1v1h-1zM179 226h1v2h-1zM797 160h1v3h-1zM399 150h1v1h-1zM246 155h1v1h-1zM192 193h1v2h-1zM1018 244h1v2h-1zM146 321h1v4h-1zM808 195h1v3h-1zM793 153h1v2h-1zM113 393h1v3h-1zM270 121h1v2h-1zM66 469h1v3h-1zM870 247h1v1h-1zM171 245h1v2h-1zM814 211h1v2h-1zM617 103h1v1h-1zM34 523h1v2h-1zM669 113h1v1h-1zM138 343h1v2h-1zM150 306h1v4h-1zM102 419h1v2h-1zM390 140h1v1h-1zM199 181h1v2h-1zM335 115h1v1h-1zM176 234h1v2h-1zM191 195h1v2h-1zM1141 215h1v1h-1zM391 141h1v1h-1zM836 244h1v2h-1zM266 127h1v2h-1zM1144 217h1v1h-1zM42 508h1v2h-1zM615 105h1v1h-1zM155 288h1v4h-1zM840 251h1v1h-1zM180 223h1v3h-1zM167 252h1v3h-1zM1155 226h1v1h-1zM159 275h1v3h-1zM1156 227h1v1h-1zM183 215h1v2h-1zM137 345h1v3h-1zM282 108h1v1h-1zM803 177h1v4h-1zM110 401h1v3h-1zM261 134h1v1h-1zM163 263h1v3h-1zM175 236h1v3h-1zM273 117h1v1h-1zM796 158h1v2h-1zM653 100h1v1h-1zM767 122h1v1h-1zM81 440h1v2h-1zM58 484h1v2h-1zM38 515h1v2h-1zM61 481h1v1h-1zM847 258h1v1h-1zM807 192h1v3h-1zM654 101h1v1h-1zM142 333h1v3h-1zM768 123h1v1h-1zM383 132h1v1h-1zM109 404h1v2h-1zM158 278h1v3h-1zM668 112h1v1h-1zM258 137h1v1h-1zM839 249h1v2h-1zM133 353h1v2h-1zM444 138h1v1h-1zM145 325h1v3h-1zM53 491h1v1h-1zM394 145h1v2h-1zM45 505h1v1h-1zM77 448h1v2h-1zM448 135h1v1h-1zM242 160h1v2h-1zM675 119h1v1h-1zM612 108h1v1h-1zM800 167h1v2h-1zM269 123h1v1h-1zM435 146h1v1h-1zM121 374h1v2h-1zM810 200h1v3h-1zM170 247h1v2h-1zM858 258h1v1h-1zM821 226h1v2h-1zM237 167h1v1h-1zM33 525h1v2h-1zM249 150h1v2h-1zM68 465h1v2h-1zM92 432h1v1h-1zM862 255h1v1h-1zM149 310h1v3h-1zM195 187h1v2h-1zM1021 239h1v2h-1zM813 208h1v3h-1zM104 415h1v2h-1zM1010 257h1v1h-1zM162 266h1v2h-1zM1013 253h1v1h-1zM806 189h1v3h-1zM174 239h1v3h-1zM1140 214h1v1h-1zM1151 223h1v1h-1zM835 243h1v1h-1zM994 267h1v1h-1zM120 376h1v2h-1zM166 255h1v2h-1zM603 116h1v1h-1zM838 248h1v1h-1zM277 113h1v1h-1zM178 228h1v3h-1zM1152 224h1v1h-1zM778 135h1v1h-1zM245 156h1v2h-1zM182 217h1v3h-1zM1017 246h1v2h-1zM112 396h1v2h-1zM65 472h1v2h-1zM161 268h1v3h-1zM442 140h1v1h-1zM876 243h1v1h-1zM80 442h1v2h-1zM865 252h1v1h-1zM37 517h1v2h-1zM116 384h1v3h-1zM165 257h1v3h-1zM177 231h1v3h-1zM809 198h1v2h-1zM108 406h1v2h-1zM942 233h1v1h-1zM154 292h1v3h-1zM132 355h1v2h-1zM190 197h1v2h-1zM144 328h1v3h-1zM52 492h1v2h-1zM280 110h1v1h-1zM770 126h1v1h-1zM29 535h1v3h-1zM41 510h1v2h-1zM64 474h1v3h-1zM292 102h1v1h-1zM76 450h1v2h-1zM1169 235h1v1h-1zM198 183h1v1h-1zM136 348h1v2h-1zM389 138h1v2h-1zM777 134h1v1h-1zM842 254h1v1h-1zM153 295h1v3h-1zM393 144h1v1h-1zM941 232h1v1h-1zM802 172h1v5h-1zM72 457h1v2h-1zM141 336h1v2h-1zM762 117h1v1h-1zM594 124h1v1h-1zM799 165h1v2h-1zM660 106h1v1h-1zM248 152h1v1h-1zM272 118h1v2h-1zM157 281h1v4h-1zM1146 219h1v1h-1zM194 189h1v2h-1zM257 138h1v2h-1zM1020 241h1v2h-1zM260 135h1v1h-1zM784 141h1v1h-1zM820 224h1v2h-1zM378 127h1v1h-1zM439 143h1v1h-1zM124 369h1v2h-1zM127 365h1v2h-1zM1147 220h1v1h-1zM173 242h1v2h-1zM1166 233h1v1h-1zM785 142h1v1h-1zM47 503h1v1h-1zM769 124h1v2h-1zM252 145h1v2h-1zM869 248h1v1h-1zM1016 248h1v2h-1zM96 428h1v1h-1zM1404 241h1v4h-1zM891 235h1v1h-1zM111 398h1v3h-1zM385 134h1v1h-1zM268 124h1v2h-1zM1032 229h1v1h-1zM160 271h1v4h-1zM123 371h1v2h-1zM169 249h1v2h-1zM812 205h1v3h-1zM670 114h1v1h-1zM430 151h1v1h-1zM841 252h1v2h-1zM284 106h1v1h-1zM895 232h1v1h-1zM239 164h1v2h-1zM32 527h1v2h-1zM805 185h1v4h-1zM978 266h1v1h-1zM671 115h1v1h-1zM275 115h1v1h-1zM103 417h1v2h-1zM1012 254h1v2h-1zM189 199h1v2h-1zM75 452h1v2h-1zM152 298h1v4h-1zM60 482h1v1h-1zM119 378h1v2h-1zM31 530h1v2h-1zM135 350h1v2h-1zM55 488h1v1h-1zM1105 213h1v1h-1zM71 459h1v2h-1zM255 141h1v1h-1zM151 302h1v4h-1zM148 313h1v4h-1zM201 179h1v1h-1zM867 250h1v1h-1zM36 519h1v2h-1zM164 260h1v3h-1zM186 206h1v3h-1zM140 338h1v2h-1zM656 103h1v1h-1zM244 158h1v1h-1zM614 106h1v1h-1zM107 408h1v2h-1zM392 142h1v2h-1zM30 532h1v3h-1zM801 169h1v3h-1zM131 357h1v2h-1zM374 124h1v1h-1zM143 331h1v2h-1zM51 494h1v2h-1zM822 228h1v2h-1zM67 467h1v2h-1zM864 253h1v1h-1zM1157 228h1v1h-1zM147 317h1v4h-1zM263 131h1v1h-1zM823 230h1v1h-1zM91 433h1v1h-1zM185 209h1v3h-1zM139 340h1v3h-1zM798 163h1v2h-1zM197 184h1v2h-1zM83 437h1v2h-1zM106 410h1v3h-1zM63 477h1v2h-1zM819 222h1v2h-1zM279 111h1v1h-1zM848 259h1v1h-1zM655 102h1v1h-1zM816 216h1v2h-1zM384 133h1v1h-1zM772 128h1v2h-1zM156 285h1v3h-1zM955 241h1v1h-1zM373 123h1v1h-1zM966 258h1v2h-1zM1093 220h1v1h-1zM193 191h1v2h-1zM79 444h1v2h-1zM959 246h1v2h-1zM1346 229h1v1h-1zM126 367h1v1h-1zM441 141h1v1h-1zM118 380h1v2h-1zM779 136h1v1h-1zM1015 250h1v2h-1zM780 137h1v1h-1zM605 114h1v1h-1zM98 426h1v1h-1zM101 421h1v2h-1zM172 244h1v1h-1zM251 147h1v1h-1zM70 461h1v2h-1zM491 119h1v1h-1zM1023 236h1v1h-1zM609 111h1v1h-1zM786 143h1v1h-1zM130 359h1v2h-1zM188 201h1v3h-1zM1027 233h1v1h-1zM50 496h1v3h-1zM815 213h1v3h-1zM787 144h1v1h-1zM74 454h1v2h-1zM962 251h1v2h-1zM666 110h1v1h-1zM829 234h1v2h-1zM596 122h1v1h-1zM168 251h1v1h-1zM247 153h1v2h-1zM184 212h1v3h-1zM1019 243h1v1h-1zM262 132h1v2h-1zM830 236h1v1h-1zM271 120h1v1h-1zM811 203h1v2h-1zM49 499h1v3h-1zM844 256h1v1h-1zM254 142h1v2h-1zM673 117h1v1h-1zM432 149h1v1h-1zM134 352h1v1h-1zM818 220h1v2h-1zM54 489h1v2h-1zM764 119h1v1h-1zM616 104h1v1h-1zM771 127h1v1h-1zM1148 221h1v1h-1zM790 148h1v2h-1zM78 446h1v2h-1zM1031 230h1v1h-1zM122 373h1v1h-1zM230 172h1v1h-1zM429 152h1v1h-1zM866 251h1v1h-1zM958 244h1v2h-1zM265 129h1v1h-1zM600 119h1v1h-1zM93 431h1v1h-1zM62 479h1v2h-1zM593 125h1v1h-1zM281 109h1v1h-1zM250 148h1v2h-1zM763 118h1v1h-1zM672 116h1v1h-1zM57 486h1v1h-1zM650 97h1v1h-1zM379 128h1v1h-1zM187 204h1v2h-1zM46 504h1v1h-1zM817 218h1v2h-1zM380 129h1v1h-1zM200 180h1v1h-1zM964 255h1v2h-1zM873 245h1v1h-1zM965 257h1v1h-1zM657 104h1v1h-1zM436 145h1v1h-1zM386 135h1v1h-1zM774 131h1v1h-1zM238 166h1v1h-1zM241 162h1v1h-1zM957 243h1v1h-1zM961 250h1v1h-1zM832 239h1v1h-1zM1022 237h1v2h-1zM611 109h1v1h-1zM105 413h1v2h-1zM28 538h1v2h-1zM1014 252h1v1h-1zM857 259h1v1h-1zM129 361h1v2h-1zM604 115h1v1h-1zM97 427h1v1h-1zM1009 258h1v1h-1zM788 145h1v2h-1zM443 139h1v1h-1zM960 248h1v2h-1zM963 253h1v2h-1zM789 147h1v1h-1zM73 456h1v1h-1zM447 136h1v1h-1zM831 237h1v2h-1zM100 423h1v2h-1zM375 125h1v1h-1zM125 368h1v1h-1zM861 256h1v1h-1zM69 463h1v1h-1zM253 144h1v1h-1zM888 237h1v1h-1zM431 150h1v1h-1zM781 138h1v1h-1zM40 512h1v1h-1zM892 234h1v1h-1zM397 148h1v1h-1zM773 130h1v1h-1zM678 121h1v1h-1zM792 151h1v2h-1zM595 123h1v1h-1zM115 387h1v3h-1zM795 156h1v2h-1zM967 260h1v1h-1zM599 120h1v1h-1zM128 363h1v2h-1zM48 502h1v1h-1zM117 382h1v1h-1zM667 111h1v1h-1zM434 147h1v1h-1zM256 140h1v1h-1zM618 102h1v1h-1zM181 220h1v3h-1zM56 487h1v1h-1zM35 521h1v2h-1zM674 118h1v1h-1zM766 121h1v1h-1zM370 121h1v1h-1zM276 114h1v1h-1zM602 117h1v1h-1zM95 429h1v1h-1zM381 130h1v1h-1zM264 130h1v1h-1zM233 170h1v1h-1zM382 131h1v1h-1zM791 150h1v1h-1zM945 235h1v1h-1zM948 237h1v1h-1zM1139 213h1v1h-1zM834 241h1v2h-1zM1172 237h1v1h-1zM868 249h1v1h-1zM1008 259h1v1h-1zM651 98h1v1h-1zM43 507h1v1h-1zM283 107h1v1h-1zM652 99h1v1h-1zM220 176h1v1h-1zM663 108h1v1h-1zM1035 227h1v1h-1zM240 163h1v1h-1zM243 159h1v1h-1zM613 107h1v1h-1zM267 126h1v1h-1zM1024 235h1v1h-1zM837 246h1v2h-1zM39 513h1v2h-1zM99 425h1v1h-1zM259 136h1v1h-1zM1028 232h1v1h-1zM1011 256h1v1h-1zM90 434h1v1h-1zM388 137h1v1h-1zM833 240h1v1h-1zM776 133h1v1h-1zM344 112h1v1h-1zM82 439h1v1h-1zM59 483h1v1h-1zM1100 216h1v1h-1zM783 140h1v1h-1zM794 155h1v1h-1zM440 142h1v1h-1zM775 132h1v1h-1zM863 254h1v1h-1zM433 148h1v1h-1zM856 260h1v1h-1zM278 112h1v1h-1zM196 186h1v1h-1zM782 139h1v1h-1zM608 112h1v1h-1zM1145 218h1v1h-1z"/>
<path fill="#0000cd" d="M305 114h2v1h-2zM317 114h2v1h-2zM331 114h3v1h-3zM349 114h3v1h-3zM721 114h15v1h-15zM756 114h5v1h-5zM1095 207h2v1h-2zM1117 207h2v1h-2zM303 113h2v1h-2zM334 113h5v1h-5zM347 113h2v1h-2zM852 245h3v1h-3zM943 245h2v1h-2zM1399 245h5v1h-5zM1046 235h2v1h-2zM1186 235h3v1h-3zM1197 235h5v1h-5zM1237 235h2v1h-2zM1266 235h3v1h-3zM1270 235h3v1h-3zM1284 235h2v1h-2zM1308 235h2v1h-2zM1376 235h2v1h-2zM547 132h3v1h-3zM558 132h4v1h-4zM874 237h4v1h-4zM932 237h2v1h-2zM1061 237h2v1h-2zM1204 237h2v1h-2zM1232 237h4v1h-4zM1288 237h17v1h-17zM1026 217h3v1h-3zM445 125h2v1h-2zM578 125h4v1h-4zM682 125h2v1h-2zM309 116h2v1h-2zM312 116h2v1h-2zM320 116h8v1h-8zM354 116h3v1h-3zM491 116h4v1h-4zM711 116h6v1h-6zM742 116h7v1h-7zM751 116h2v1h-2zM186 173h3v1h-3zM786 173h2v1h-2zM432 134h5v1h-5zM528 134h7v1h-7zM871 236h3v1h-3zM880 236h2v1h-2zM1202 236h2v1h-2zM1286 236h2v1h-2zM1305 236h3v1h-3zM1378 236h2v1h-2zM191 175h2v1h-2zM220 175h2v1h-2zM897 225h6v1h-6zM1344 225h20v1h-20zM1164 251h5v1h-5zM1161 252h3v1h-3zM693 120h2v1h-2zM1079 212h2v1h-2zM1103 212h2v1h-2zM1106 212h2v1h-2zM524 133h4v1h-4zM541 133h2v1h-2zM550 133h3v1h-3zM554 133h4v1h-4zM878 238h2v1h-2zM1206 238h2v1h-2zM1229 238h3v1h-3zM1381 238h2v1h-2zM361 119h2v1h-2zM498 119h2v1h-2zM695 119h2v1h-2zM1081 211h2v1h-2zM1108 211h2v1h-2zM1136 211h2v1h-2zM922 230h2v1h-2zM1245 230h6v1h-6zM1319 230h5v1h-5zM464 124h17v1h-17zM684 124h2v1h-2zM905 223h3v1h-3zM1324 229h14v1h-14zM924 231h2v1h-2zM1242 231h3v1h-3zM1251 231h5v1h-5zM1317 231h2v1h-2zM1129 205h4v1h-4zM307 115h2v1h-2zM328 115h3v1h-3zM352 115h2v1h-2zM717 115h4v1h-4zM736 115h6v1h-6zM753 115h4v1h-4zM927 233h2v1h-2zM1259 233h3v1h-3zM1313 233h2v1h-2zM1373 233h2v1h-2zM1083 210h2v1h-2zM1100 210h2v1h-2zM1110 210h2v1h-2zM357 117h2v1h-2zM488 117h3v1h-3zM495 117h2v1h-2zM699 117h12v1h-12zM749 117h2v1h-2zM62 447h3v1h-3zM189 174h2v1h-2zM936 240h2v1h-2zM1052 240h3v1h-3zM1209 240h2v1h-2zM1226 240h2v1h-2zM267 98h2v1h-2zM280 98h2v1h-2zM1342 226h2v1h-2zM1364 226h2v1h-2zM980 290h5v1h-5zM572 126h6v1h-6zM582 126h6v1h-6zM680 126h2v1h-2zM1189 234h8v1h-8zM1262 234h4v1h-4zM1273 234h11v1h-11zM1310 234h3v1h-3zM282 99h2v1h-2zM568 127h4v1h-4zM678 127h3v1h-3zM939 242h2v1h-2zM1213 242h3v1h-3zM1223 242h2v1h-2zM855 246h6v1h-6zM945 246h6v1h-6zM429 136h2v1h-2zM264 100h2v1h-2zM839 262h2v1h-2zM663 130h10v1h-10zM885 232h2v1h-2zM1256 232h3v1h-3zM1315 232h2v1h-2zM908 222h6v1h-6zM627 84h6v1h-6zM1087 208h2v1h-2zM1097 208h2v1h-2zM1114 208h3v1h-3zM1169 250h4v1h-4zM1055 241h2v1h-2zM1179 241h2v1h-2zM1211 241h2v1h-2zM951 247h4v1h-4zM228 169h5v1h-5zM863 243h2v1h-2zM940 243h2v1h-2zM1216 243h2v1h-2zM1219 243h4v1h-4zM1387 243h3v1h-3zM203 176h8v1h-8zM218 176h2v1h-2zM622 81h2v1h-2zM269 97h5v1h-5zM278 97h2v1h-2zM845 254h2v1h-2zM458 122h3v1h-3zM689 122h2v1h-2zM1090 206h5v1h-5zM1119 206h10v1h-10zM448 123h2v1h-2zM461 123h3v1h-3zM686 123h3v1h-3zM288 105h7v1h-7zM414 153h2v1h-2zM521 135h2v1h-2zM535 135h5v1h-5zM451 121h8v1h-8zM501 121h9v1h-9zM691 121h2v1h-2zM399 166h4v1h-4zM133 312h2v1h-2zM1018 216h8v1h-8zM225 171h2v1h-2zM1390 244h2v1h-2zM1393 244h6v1h-6zM60 448h2v1h-2zM1058 239h2v1h-2zM1207 239h2v1h-2zM893 224h4v1h-4zM903 224h2v1h-2zM130 314h2v1h-2zM15 531h2v1h-2zM27 531h2v1h-2zM1015 218h2v1h-2zM1029 218h2v1h-2zM196 180h2v1h-2zM919 228h2v1h-2zM1338 228h2v1h-2zM1367 228h2v1h-2zM179 172h7v1h-7zM956 249h2v1h-2zM1340 227h2v1h-2zM1366 227h2v1h-2zM78 428h4v1h-4zM17 530h2v1h-2zM25 530h2v1h-2zM837 263h2v1h-2zM1085 209h2v1h-2zM1112 209h2v1h-2zM544 131h3v1h-3zM562 131h3v1h-3zM1013 219h2v1h-2zM1031 219h2v1h-2zM261 102h2v1h-2zM128 315h2v1h-2zM13 532h2v1h-2zM76 429h2v1h-2zM82 429h3v1h-3zM19 529h6v1h-6zM676 128h2v1h-2zM826 276h2v1h-2zM201 177h2v1h-2zM211 177h7v1h-7zM301 112h2v1h-2zM339 112h8v1h-8zM397 165h2v1h-2zM403 165h2v1h-2zM11 533h2v1h-2zM824 277h2v1h-2zM138 309h2v1h-2zM394 163h2v1h-2zM136 310h2v1h-2zM142 310h2v1h-2zM834 265h2v1h-2zM199 178h2v1h-2zM974 285h2v1h-2zM359 118h2v1h-2zM486 118h2v1h-2zM697 118h2v1h-2zM625 83h2v1h-2zM660 129h3v1h-3zM673 129h3v1h-3zM274 96h4v1h-4zM968 279h2v1h-2zM620 80h2v1h-2zM98 412h2v1h-2zM128 316h1v2h-1zM803 205h1v4h-1zM151 278h1v5h-1zM650 113h1v2h-1zM601 109h1v2h-1zM148 293h1v4h-1zM1000 245h1v2h-1zM406 162h1v1h-1zM3 541h1v1h-1zM516 131h1v2h-1zM1380 237h1v1h-1zM441 129h1v1h-1zM796 186h1v1h-1zM178 173h1v1h-1zM152 273h1v5h-1zM979 289h1v1h-1zM643 101h1v2h-1zM42 485h1v3h-1zM372 133h1v2h-1zM646 106h1v2h-1zM517 133h1v1h-1zM156 251h1v6h-1zM654 119h1v2h-1zM781 160h1v3h-1zM146 302h1v5h-1zM848 250h1v2h-1zM797 187h1v2h-1zM107 384h1v5h-1zM169 189h1v3h-1zM250 124h1v2h-1zM30 520h1v4h-1zM1134 208h1v1h-1zM778 154h1v2h-1zM160 228h1v6h-1zM647 108h1v2h-1zM810 231h1v4h-1zM1011 222h1v2h-1zM376 139h1v2h-1zM173 179h1v2h-1zM235 162h1v2h-1zM1228 239h1v1h-1zM161 222h1v6h-1zM636 88h1v2h-1zM55 443h1v4h-1zM628 85h1v1h-1zM101 409h1v2h-1zM597 115h1v2h-1zM996 252h1v2h-1zM617 84h1v2h-1zM127 318h1v2h-1zM386 152h1v2h-1zM843 257h1v2h-1zM147 297h1v5h-1zM999 247h1v2h-1zM255 112h1v3h-1zM483 121h1v1h-1zM47 475h1v2h-1zM421 146h1v1h-1zM94 416h1v1h-1zM813 242h1v4h-1zM775 147h1v3h-1zM106 389h1v4h-1zM958 250h1v4h-1zM390 157h1v2h-1zM168 192h1v4h-1zM75 430h1v2h-1zM942 244h1v1h-1zM222 174h1v1h-1zM119 337h1v2h-1zM1004 237h1v2h-1zM1057 240h1v1h-1zM1099 209h1v1h-1zM991 266h1v3h-1zM1007 230h1v2h-1zM604 105h1v1h-1zM172 181h1v3h-1zM964 268h1v2h-1zM817 256h1v3h-1zM39 493h1v3h-1zM86 426h1v2h-1zM1038 226h1v1h-1zM89 422h1v1h-1zM995 254h1v3h-1zM1133 206h1v2h-1zM311 117h1v1h-1zM110 371h1v5h-1zM1239 234h1v1h-1zM251 121h1v3h-1zM851 247h1v1h-1zM10 534h1v1h-1zM771 138h1v2h-1zM34 509h1v2h-1zM523 134h1v1h-1zM365 123h1v2h-1zM409 158h1v1h-1zM1178 242h1v2h-1zM315 114h1v1h-1zM820 266h1v3h-1zM1145 226h1v2h-1zM71 437h1v2h-1zM642 99h1v2h-1zM164 208h1v4h-1zM961 260h1v3h-1zM38 496h1v3h-1zM118 339h1v3h-1zM497 118h1v1h-1zM379 143h1v2h-1zM653 118h1v1h-1zM1182 239h1v1h-1zM832 268h1v2h-1zM806 217h1v4h-1zM1045 233h1v1h-1zM404 164h1v1h-1zM7 537h1v1h-1zM424 142h1v2h-1zM289 106h1v1h-1zM51 460h1v4h-1zM639 93h1v2h-1zM870 237h1v1h-1zM763 119h1v2h-1zM67 444h1v1h-1zM70 439h1v2h-1zM238 155h1v2h-1zM37 499h1v4h-1zM812 239h1v3h-1zM968 277h1v2h-1zM114 354h1v5h-1zM1147 231h1v3h-1zM1158 249h1v1h-1zM50 464h1v4h-1zM785 169h1v3h-1zM823 274h1v2h-1zM1076 216h1v1h-1zM788 175h1v2h-1zM319 115h1v1h-1zM963 265h1v3h-1zM155 257h1v6h-1zM300 111h1v1h-1zM1159 250h1v1h-1zM1371 231h1v1h-1zM1174 248h1v1h-1zM74 432h1v2h-1zM1003 239h1v2h-1zM159 234h1v6h-1zM624 82h1v1h-1zM1144 223h1v3h-1zM770 136h1v2h-1zM1372 232h1v1h-1zM893 225h1v1h-1zM416 151h1v1h-1zM259 105h1v2h-1zM237 157h1v3h-1zM364 122h1v1h-1zM122 329h1v3h-1zM986 282h1v3h-1zM565 130h1v1h-1zM195 179h1v1h-1zM649 111h1v2h-1zM1044 232h1v1h-1zM176 175h1v1h-1zM641 97h1v2h-1zM1063 236h1v1h-1zM657 124h1v1h-1zM378 142h1v1h-1zM150 283h1v5h-1zM49 468h1v4h-1zM990 269h1v4h-1zM938 241h1v1h-1zM805 213h1v4h-1zM634 86h1v1h-1zM777 152h1v2h-1zM431 135h1v1h-1zM154 263h1v5h-1zM611 93h1v2h-1zM994 257h1v3h-1zM600 111h1v1h-1zM1006 232h1v3h-1zM603 106h1v2h-1zM158 240h1v6h-1zM109 376h1v4h-1zM635 87h1v1h-1zM246 133h1v3h-1zM54 447h1v4h-1zM85 428h1v1h-1zM299 110h1v1h-1zM29 524h1v5h-1zM809 228h1v3h-1zM762 117h1v2h-1zM145 307h1v4h-1zM1051 239h1v1h-1zM163 212h1v4h-1zM33 511h1v3h-1zM249 126h1v3h-1zM989 273h1v3h-1zM1177 244h1v1h-1zM974 284h1v1h-1zM1010 224h1v2h-1zM607 100h1v2h-1zM104 398h1v6h-1zM198 179h1v1h-1zM46 477h1v2h-1zM792 181h1v2h-1zM126 320h1v2h-1zM842 259h1v1h-1zM769 133h1v3h-1zM105 393h1v5h-1zM254 115h1v2h-1zM798 189h1v3h-1zM423 144h1v1h-1zM266 99h1v1h-1zM815 249h1v4h-1zM656 122h1v2h-1zM591 124h1v1h-1zM113 359h1v4h-1zM645 104h1v2h-1zM780 158h1v2h-1zM1385 241h1v1h-1zM802 202h1v3h-1zM519 135h1v1h-1zM638 92h1v1h-1zM149 288h1v5h-1zM1386 242h1v1h-1zM884 233h1v1h-1zM776 150h1v2h-1zM1241 232h1v1h-1zM153 268h1v5h-1zM1075 217h1v2h-1zM959 254h1v3h-1zM967 275h1v2h-1zM1033 221h1v1h-1zM443 127h1v1h-1zM888 230h1v1h-1zM389 156h1v1h-1zM588 127h1v1h-1zM73 434h1v2h-1zM121 332h1v2h-1zM787 174h1v1h-1zM447 124h1v1h-1zM1184 237h1v1h-1zM236 160h1v2h-1zM41 488h1v2h-1zM53 451h1v5h-1zM363 120h1v2h-1zM808 224h1v4h-1zM850 248h1v1h-1zM816 253h1v3h-1zM610 95h1v2h-1zM791 180h1v1h-1zM1146 228h1v3h-1zM934 238h1v1h-1zM1218 244h1v1h-1zM998 249h1v2h-1zM314 115h1v1h-1zM367 126h1v2h-1zM784 167h1v2h-1zM69 441h1v2h-1zM822 271h1v3h-1zM865 242h1v1h-1zM485 119h1v1h-1zM619 81h1v2h-1zM36 503h1v3h-1zM652 116h1v2h-1zM518 134h1v1h-1zM167 196h1v4h-1zM960 257h1v3h-1zM420 147h1v1h-1zM40 490h1v3h-1zM224 172h1v1h-1zM1143 221h1v2h-1zM779 156h1v2h-1zM381 146h1v1h-1zM606 102h1v2h-1zM171 184h1v2h-1zM233 166h1v3h-1zM411 156h1v1h-1zM248 129h1v2h-1zM637 90h1v2h-1zM88 423h1v2h-1zM985 285h1v4h-1zM1032 220h1v1h-1zM1009 226h1v2h-1zM801 198h1v4h-1zM45 479h1v2h-1zM966 273h1v2h-1zM295 106h1v1h-1zM162 216h1v6h-1zM790 178h1v2h-1zM841 260h1v2h-1zM253 117h1v2h-1zM811 235h1v4h-1zM117 342h1v4h-1zM140 308h1v1h-1zM1002 241h1v2h-1zM48 472h1v3h-1zM108 380h1v4h-1zM786 172h1v1h-1zM132 313h1v1h-1zM170 186h1v3h-1zM807 221h1v3h-1zM28 529h1v2h-1zM28 532h1v1h-1zM256 110h1v2h-1zM141 309h1v1h-1zM993 260h1v3h-1zM1039 227h1v1h-1zM9 535h1v1h-1zM426 140h1v1h-1zM96 414h1v1h-1zM962 263h1v2h-1zM914 223h1v1h-1zM245 136h1v2h-1zM540 134h1v1h-1zM655 121h1v1h-1zM1017 217h1v1h-1zM658 125h1v2h-1zM438 132h1v1h-1zM1040 228h1v1h-1zM1135 209h1v1h-1zM829 273h1v2h-1zM783 165h1v2h-1zM915 224h1v1h-1zM175 176h1v1h-1zM100 411h1v1h-1zM821 269h1v2h-1zM32 514h1v3h-1zM116 346h1v4h-1zM659 127h1v1h-1zM814 246h1v3h-1zM640 95h1v2h-1zM1139 214h1v2h-1zM1105 213h1v1h-1zM166 200h1v4h-1zM120 334h1v3h-1zM1046 234h1v1h-1zM992 263h1v3h-1zM1078 213h1v2h-1zM804 209h1v4h-1zM929 234h1v1h-1zM244 138h1v3h-1zM391 159h1v1h-1zM800 194h1v4h-1zM111 367h1v4h-1zM157 246h1v5h-1zM970 280h1v1h-1zM1225 241h1v1h-1zM764 121h1v3h-1zM1150 238h1v1h-1zM125 322h1v2h-1zM392 160h1v1h-1zM31 517h1v3h-1zM818 259h1v4h-1zM1073 220h1v2h-1zM761 115h1v2h-1zM984 289h1v1h-1zM984 291h1v1h-1zM415 152h1v1h-1zM1065 233h1v2h-1zM165 204h1v4h-1zM283 100h1v1h-1zM366 125h1v1h-1zM243 141h1v3h-1zM369 129h1v2h-1zM1160 251h1v1h-1zM613 90h1v2h-1zM768 131h1v2h-1zM380 145h1v1h-1zM84 430h1v1h-1zM370 131h1v1h-1zM52 456h1v4h-1zM879 237h1v1h-1zM590 125h1v1h-1zM1069 226h1v2h-1zM1142 218h1v3h-1zM1008 228h1v2h-1zM883 234h1v1h-1zM115 350h1v4h-1zM112 363h1v4h-1zM102 407h1v2h-1zM609 97h1v2h-1zM418 149h1v1h-1zM4 540h1v1h-1zM1176 245h1v1h-1zM91 419h1v1h-1zM1149 236h1v2h-1zM240 149h1v3h-1zM567 128h1v1h-1zM867 240h1v1h-1zM921 229h1v1h-1zM789 177h1v1h-1zM247 131h1v2h-1zM593 122h1v1h-1zM828 275h1v1h-1zM56 441h1v2h-1zM124 324h1v3h-1zM793 183h1v1h-1zM976 286h1v1h-1zM782 163h1v2h-1zM239 152h1v3h-1zM1137 212h1v1h-1zM988 276h1v3h-1zM767 128h1v3h-1zM977 287h1v1h-1zM890 228h1v1h-1zM1138 213h1v1h-1zM103 404h1v3h-1zM252 119h1v2h-1zM602 108h1v1h-1zM1236 236h1v1h-1zM887 231h1v1h-1zM410 157h1v1h-1zM383 148h1v2h-1zM87 425h1v1h-1zM520 136h1v1h-1zM1072 222h1v1h-1zM852 246h1v1h-1zM1183 238h1v1h-1zM384 150h1v1h-1zM965 270h1v3h-1zM987 279h1v3h-1zM1148 234h1v2h-1zM774 145h1v2h-1zM440 130h1v1h-1zM1034 222h1v1h-1zM174 177h1v2h-1zM177 174h1v1h-1zM35 506h1v3h-1zM844 256h1v1h-1zM847 252h1v1h-1zM1035 223h1v1h-1zM1012 220h1v2h-1zM234 164h1v2h-1zM1068 228h1v2h-1zM422 145h1v1h-1zM509 122h1v1h-1zM413 154h1v1h-1zM223 173h1v1h-1zM935 239h1v1h-1zM596 117h1v1h-1zM616 86h1v1h-1zM510 123h1v1h-1zM605 104h1v1h-1zM513 127h1v2h-1zM916 225h1v1h-1zM90 420h1v2h-1zM193 176h1v2h-1zM1042 230h1v1h-1zM1240 233h1v1h-1zM917 226h1v1h-1zM242 144h1v3h-1zM316 113h1v1h-1zM1151 239h1v2h-1zM1141 217h1v1h-1zM1152 241h1v1h-1zM123 327h1v2h-1zM405 163h1v1h-1zM1155 245h1v2h-1zM799 192h1v2h-1zM1049 237h1v1h-1zM425 141h1v1h-1zM428 137h1v1h-1zM135 311h1v1h-1zM831 270h1v2h-1zM43 483h1v2h-1zM59 446h1v2h-1zM437 133h1v1h-1zM394 162h1v1h-1zM1181 240h1v1h-1zM1041 229h1v1h-1zM368 128h1v1h-1zM482 122h1v1h-1zM285 102h1v1h-1zM93 417h1v1h-1zM1269 236h1v1h-1zM819 263h1v3h-1zM1136 210h1v1h-1zM66 445h1v1h-1zM382 147h1v1h-1zM1383 239h1v1h-1zM660 128h1v1h-1zM608 99h1v1h-1zM862 244h1v1h-1zM1060 238h1v1h-1zM417 150h1v1h-1zM296 107h1v1h-1zM930 235h1v1h-1zM408 159h1v1h-1zM1064 235h1v1h-1zM866 241h1v1h-1zM297 108h1v1h-1zM931 236h1v1h-1zM612 92h1v1h-1zM892 226h1v1h-1zM258 107h1v1h-1zM971 281h1v1h-1zM615 87h1v2h-1zM592 123h1v1h-1zM393 161h1v1h-1zM6 538h1v1h-1zM444 126h1v1h-1zM511 124h1v2h-1zM1071 223h1v2h-1zM284 101h1v1h-1zM512 126h1v1h-1zM241 147h1v2h-1zM599 112h1v1h-1zM795 185h1v1h-1zM978 288h1v1h-1zM371 132h1v1h-1zM1140 216h1v1h-1zM766 126h1v2h-1zM869 238h1v1h-1zM1067 230h1v2h-1zM1173 249h1v1h-1zM97 413h1v1h-1zM1048 236h1v1h-1zM500 120h1v1h-1zM385 151h1v1h-1zM595 118h1v2h-1zM773 143h1v2h-1zM1154 244h1v1h-1zM261 103h1v1h-1zM58 444h1v2h-1zM834 266h1v1h-1zM889 229h1v1h-1zM412 155h1v1h-1zM1037 225h1v1h-1zM44 481h1v2h-1zM1102 211h1v1h-1zM374 136h1v2h-1zM1185 236h1v1h-1zM926 232h1v1h-1zM1001 243h1v2h-1zM407 160h1v2h-1zM442 128h1v1h-1zM375 138h1v1h-1zM427 138h1v2h-1zM765 124h1v2h-1zM1375 234h1v1h-1zM400 167h1v1h-1zM1153 242h1v2h-1zM846 253h1v1h-1zM997 251h1v1h-1zM772 140h1v3h-1zM68 443h1v1h-1zM57 443h1v1h-1zM794 184h1v1h-1zM481 123h1v1h-1zM419 148h1v1h-1zM1074 219h1v1h-1zM1392 245h1v1h-1zM515 130h1v1h-1zM72 436h1v1h-1zM144 311h1v2h-1zM257 108h1v2h-1zM594 120h1v2h-1zM648 110h1v1h-1zM194 178h1v1h-1zM849 249h1v1h-1zM450 122h1v1h-1zM918 227h1v1h-1zM439 131h1v1h-1zM830 272h1v1h-1zM553 134h1v1h-1zM484 120h1v1h-1zM598 113h1v2h-1zM95 415h1v1h-1zM298 109h1v1h-1zM1036 224h1v1h-1zM5 539h1v1h-1zM1005 235h1v2h-1zM1070 225h1v1h-1zM618 83h1v1h-1zM1175 246h1v2h-1zM227 170h1v1h-1zM65 446h1v1h-1zM373 135h1v1h-1zM514 129h1v1h-1zM92 418h1v1h-1zM1077 215h1v1h-1zM396 164h1v1h-1zM286 103h1v1h-1zM861 245h1v1h-1zM1043 231h1v1h-1zM377 141h1v1h-1zM1089 207h1v1h-1zM845 255h1v1h-1zM633 85h1v1h-1zM287 104h1v1h-1zM1066 232h1v1h-1zM468 125h1v1h-1zM644 103h1v1h-1zM836 264h1v1h-1zM8 536h1v1h-1zM891 227h1v1h-1zM260 104h1v1h-1zM955 248h1v1h-1zM1156 247h1v1h-1zM1050 238h1v1h-1zM388 155h1v1h-1zM1369 229h1v1h-1zM833 267h1v1h-1zM1157 248h1v1h-1zM824 276h1v1h-1zM1370 230h1v1h-1zM973 283h1v1h-1zM1131 204h1v1h-1zM868 239h1v1h-1zM1384 240h1v1h-1zM263 101h1v1h-1zM566 129h1v1h-1zM651 115h1v1h-1zM632 83h1v1h-1zM387 154h1v1h-1zM614 89h1v1h-1zM972 282h1v1h-1zM543 132h1v1h-1zM882 235h1v1h-1zM589 126h1v1h-1z"/>
<rect x="4" y="52" width="1415" height="3" fill="#ff0000"/>
<rect x="4" y="183" width="1415" height="3" fill="#00ff00"/>
<rect x="4" y="359" width="1415" height="3" fill="#0000ff"/>
<rect x="4" y="497" width="1415" height="3" fill="#0000ff"/>
</g>
<path d="M1130 26h10l-5 5z" fill="#b4b4b4" shape-rendering="auto"/>
<path d="M4 797v4h4z" fill="#c8c8c8" shape-rendering="auto"/>
<path fill="#c0c0c0" d="M4 626h1v5h-1zM8 626h1v5h-1zM12 626h1v5h-1zM16 626h1v5h-1zM20 626h1v5h-1zM24 626h1v5h-1zM28 625h1v6h-1zM32 618h1v13h-1zM36 616h1v15h-1zM40 612h1v19h-1zM44 611h1v20h-1zM48 611h1v20h-1zM52 609h1v22h-1zM56 607h1v24h-1zM60 608h1v23h-1zM64 608h1v23h-1zM68 605h1v26h-1zM72 605h1v26h-1zM76 605h1v26h-1zM80 605h1v26h-1zM84 605h1v26h-1zM88 605h1v26h-1zM92 605h1v26h-1zM96 605h1v26h-1zM100 605h1v26h-1zM104 602h1v29h-1zM108 597h1v34h-1zM112 593h1v38h-1zM116 590h1v41h-1zM120 591h1v40h-1zM124 591h1v40h-1zM128 592h1v39h-1zM132 592h1v39h-1zM136 592h1v39h-1zM140 592h1v39h-1zM144 591h1v40h-1zM148 589h1v42h-1zM152 583h1v48h-1zM156 580h1v51h-1zM160 576h1v55h-1zM164 574h1v57h-1zM168 573h1v58h-1zM172 576h1v55h-1zM176 576h1v55h-1zM180 578h1v53h-1zM184 579h1v52h-1zM188 582h1v49h-1zM192 584h1v47h-1zM196 587h1v44h-1zM200 589h1v42h-1zM204 590h1v41h-1zM208 592h1v39h-1zM212 595h1v36h-1zM216 597h1v34h-1zM220 598h1v33h-1zM224 600h1v31h-1zM228 601h1v30h-1zM232 601h1v30h-1zM236 599h1v32h-1zM240 598h1v33h-1zM244 597h1v34h-1zM248 597h1v34h-1zM252 596h1v35h-1zM256 596h1v35h-1zM260 596h1v35h-1zM264 598h1v33h-1zM268 599h1v32h-1zM272 600h1v31h-1zM276 602h1v29h-1zM280 603h1v28h-1zM284 605h1v26h-1zM288 608h1v23h-1zM292 610h1v21h-1zM296 612h1v19h-1zM300 613h1v18h-1zM304 615h1v16h-1zM308 616h1v15h-1zM312 618h1v13h-1zM316 618h1v13h-1zM320 620h1v11h-1zM324 621h1v10h-1zM328 621h1v10h-1zM332 621h1v10h-1zM336 622h1v9h-1zM340 622h1v9h-1zM344 622h1v9h-1zM348 624h1v7h-1zM352 625h1v6h-1zM356 626h1v5h-1zM360 627h1v4h-1zM364 628h1v3h-1zM368 628h1v3h-1zM372 630h1v2h-1zM376 630h1v4h-1zM380 630h1v6h-1zM384 630h1v7h-1zM388 630h1v8h-1zM392 630h1v9h-1zM396 630h1v10h-1zM400 630h1v9h-1zM404 630h1v8h-1zM408 630h1v7h-1zM412 630h1v6h-1zM416 630h1v5h-1zM420 630h1v5h-1zM424 630h1v4h-1zM428 630h1v3h-1zM432 630h1v3h-1zM436 630h1v2h-1zM440 629h1v2h-1zM444 627h1v4h-1zM448 627h1v4h-1zM452 626h1v5h-1zM456 626h1v5h-1zM460 626h1v5h-1zM464 626h1v5h-1zM468 626h1v5h-1zM472 626h1v5h-1zM476 626h1v5h-1zM480 626h1v5h-1zM484 626h1v5h-1zM488 626h1v5h-1zM492 626h1v5h-1zM496 627h1v4h-1zM500 627h1v4h-1zM504 627h1v4h-1zM508 627h1v4h-1zM512 628h1v3h-1zM516 629h1v2h-1zM520 630h1v1h-1zM524 630h1v1h-1zM528 630h1v1h-1zM532 630h1v1h-1zM536 630h1v1h-1zM540 630h1v1h-1zM544 630h1v1h-1zM548 630h1v1h-1zM552 630h1v1h-1zM556 630h1v1h-1zM560 630h1v1h-1zM564 630h1v1h-1zM568 630h1v1h-1zM572 630h1v1h-1zM576 630h1v1h-1zM580 630h1v1h-1zM584 630h1v1h-1zM588 629h1v2h-1zM592 628h1v3h-1zM596 626h1v5h-1zM600 624h1v7h-1zM604 623h1v8h-1zM608 622h1v9h-1zM612 621h1v10h-1zM616 620h1v11h-1zM620 619h1v12h-1zM624 620h1v11h-1zM628 621h1v10h-1zM632 622h1v9h-1zM636 624h1v7h-1zM640 626h1v5h-1zM644 628h1v3h-1zM648 630h1v1h-1zM652 630h1v2h-1zM656 630h1v3h-1zM660 630h1v4h-1zM664 630h1v4h-1zM668 630h1v4h-1zM672 630h1v4h-1zM676 630h1v4h-1zM680 630h1v4h-1zM684 630h1v3h-1zM688 630h1v3h-1zM692 630h1v3h-1zM696 630h1v2h-1zM700 630h1v2h-1zM704 630h1v2h-1zM708 630h1v2h-1zM712 630h1v2h-1zM716 630h1v2h-1zM720 630h1v2h-1zM724 630h1v2h-1zM728 630h1v2h-1zM732 630h1v2h-1zM736 630h1v2h-1zM740 630h1v2h-1zM744 630h1v2h-1zM748 630h1v2h-1zM752 630h1v2h-1zM756 630h1v2h-1zM760 630h1v2h-1zM764 630h1v3h-1zM768 630h1v7h-1zM772 630h1v11h-1zM776 630h1v12h-1zM780 630h1v12h-1zM784 630h1v14h-1zM788 630h1v14h-1zM792 630h1v16h-1zM796 630h1v18h-1zM800 630h1v22h-1zM804 630h1v28h-1zM808 630h1v31h-1zM812 630h1v33h-1zM816 630h1v34h-1zM820 630h1v34h-1zM824 630h1v34h-1zM828 630h1v30h-1zM832 630h1v29h-1zM836 630h1v27h-1zM840 630h1v25h-1zM844 630h1v24h-1zM848 630h1v22h-1zM852 630h1v20h-1zM856 630h1v19h-1zM860 630h1v17h-1zM864 630h1v16h-1zM868 630h1v14h-1zM872 630h1v12h-1zM876 630h1v11h-1zM880 630h1v10h-1zM884 630h1v7h-1zM888 630h1v5h-1zM892 630h1v4h-1zM896 630h1v4h-1zM900 630h1v3h-1zM904 630h1v3h-1zM908 630h1v3h-1zM912 630h1v3h-1zM916 630h1v3h-1zM920 630h1v3h-1zM924 630h1v3h-1zM928 630h1v3h-1zM932 630h1v5h-1zM936 630h1v5h-1zM940 630h1v5h-1zM944 630h1v5h-1zM948 630h1v5h-1zM952 630h1v5h-1zM956 630h1v6h-1zM960 630h1v11h-1zM964 630h1v14h-1zM968 630h1v16h-1zM972 630h1v14h-1zM976 630h1v14h-1zM980 630h1v13h-1zM984 630h1v11h-1zM988 630h1v8h-1zM992 630h1v5h-1zM996 630h1v2h-1zM1000 630h1v2h-1zM1004 630h1v1h-1zM1008 627h1v4h-1zM1012 626h1v5h-1zM1016 624h1v7h-1zM1020 623h1v8h-1zM1024 623h1v8h-1zM1028 624h1v7h-1zM1032 625h1v6h-1zM1036 626h1v5h-1zM1040 628h1v3h-1zM1044 628h1v3h-1zM1048 629h1v2h-1zM1052 629h1v2h-1zM1056 629h1v2h-1zM1060 628h1v3h-1zM1064 628h1v3h-1zM1068 628h1v3h-1zM1072 623h1v8h-1zM1076 623h1v8h-1zM1080 623h1v8h-1zM1084 623h1v8h-1zM1088 623h1v8h-1zM1092 623h1v8h-1zM1096 623h1v8h-1zM1100 623h1v8h-1zM1104 623h1v8h-1zM1108 623h1v8h-1zM1112 623h1v8h-1zM1116 623h1v8h-1zM1120 623h1v8h-1zM1124 623h1v8h-1zM1128 623h1v8h-1zM1132 625h1v6h-1zM1136 627h1v4h-1zM1140 630h1v1h-1zM1144 630h1v3h-1zM1148 630h1v6h-1zM1152 630h1v7h-1zM1156 630h1v7h-1zM1160 630h1v7h-1zM1164 630h1v6h-1zM1168 630h1v6h-1zM1172 630h1v6h-1zM1176 630h1v6h-1zM1180 630h1v5h-1zM1184 630h1v5h-1zM1188 630h1v5h-1zM1192 630h1v5h-1zM1196 630h1v5h-1zM1200 630h1v5h-1zM1204 630h1v5h-1zM1208 630h1v5h-1zM1212 630h1v4h-1zM1216 630h1v4h-1zM1220 630h1v4h-1zM1224 630h1v4h-1zM1228 630h1v4h-1zM1232 630h1v4h-1zM1236 630h1v3h-1zM1240 630h1v2h-1zM1244 630h1v2h-1zM1248 630h1v2h-1zM1252 630h1v2h-1zM1256 630h1v2h-1zM1260 630h1v2h-1zM1264 630h1v2h-1zM1268 630h1v1h-1zM1272 630h1v1h-1zM1276 630h1v1h-1zM1280 630h1v1h-1zM1284 630h1v1h-1zM1288 630h1v1h-1zM1292 630h1v1h-1zM1296 630h1v1h-1zM1300 630h1v1h-1zM1304 630h1v1h-1zM1308 630h1v1h-1zM1312 630h1v1h-1zM1316 630h1v1h-1zM1320 630h1v1h-1zM1324 630h1v1h-1zM1328 630h1v1h-1zM1332 630h1v1h-1zM1336 629h1v2h-1zM1340 629h1v2h-1zM1344 629h1v2h-1zM1348 629h1v2h-1zM1352 629h1v2h-1zM1356 629h1v2h-1zM1360 629h1v2h-1zM1364 629h1v2h-1zM1368 629h1v2h-1zM1372 629h1v2h-1zM1376 629h1v2h-1zM1380 629h1v2h-1zM1384 630h1v2h-1zM1388 630h1v3h-1zM1392 630h1v3h-1zM1396 630h1v3h-1zM1400 630h1v3h-1zM1404 630h1v3h-1z"/>
<path fill="#ff0000" d="M443 630h2v1h-2zM538 630h3v1h-3zM544 630h3v1h-3zM550 630h3v1h-3zM562 630h3v1h-3zM568 630h3v1h-3zM574 630h3v1h-3zM670 630h2v1h-2zM724 630h3v1h-3zM730 630h3v1h-3zM736 630h3v1h-3zM742 630h3v1h-3zM766 630h2v1h-2zM1156 630h3v1h-3zM1247 630h2v1h-2zM1252 630h3v1h-3zM1258 630h3v1h-3zM1264 630h3v1h-3zM1270 630h3v1h-3zM1276 630h3v1h-3zM1282 630h3v1h-3zM1288 630h3v1h-3zM1294 630h3v1h-3zM1300 630h3v1h-3zM1306 630h3v1h-3zM1312 630h3v1h-3zM1318 630h3v1h-3zM1390 630h3v1h-3zM106 603h3v1h-3zM22 626h3v1h-3zM466 626h3v1h-3zM472 626h3v1h-3zM478 626h3v1h-3zM484 626h3v1h-3zM490 626h3v1h-3zM496 626h3v1h-3zM502 626h3v1h-3zM508 626h3v1h-3zM604 626h3v1h-3zM659 626h2v1h-2zM1024 626h3v1h-3zM400 635h3v1h-3zM425 635h2v1h-2zM904 635h3v1h-3zM958 635h3v1h-3zM1007 635h2v1h-2zM1174 635h3v1h-3zM1180 635h3v1h-3zM1186 635h3v1h-3zM250 598h3v1h-3zM280 598h3v1h-3zM5 628h2v1h-2zM10 628h3v1h-3zM520 628h3v1h-3zM592 628h3v1h-3zM664 628h2v1h-2zM1342 628h3v1h-3zM1348 628h3v1h-3zM1354 628h3v1h-3zM1360 628h3v1h-3zM1366 628h3v1h-3zM1372 628h3v1h-3zM1378 628h3v1h-3zM388 631h3v1h-3zM556 631h2v1h-2zM712 631h3v1h-3zM718 631h3v1h-3zM1240 631h3v1h-3zM1396 631h3v1h-3zM1402 631h3v1h-3zM832 660h3v1h-3zM838 660h3v1h-3zM118 599h2v1h-2zM286 599h3v1h-3zM173 579h2v1h-2zM100 604h3v1h-3zM299 604h2v1h-2zM436 632h3v1h-3zM676 632h3v1h-3zM682 632h3v1h-3zM688 632h3v1h-3zM694 632h3v1h-3zM700 632h3v1h-3zM706 632h2v1h-2zM772 632h3v1h-3zM916 632h3v1h-3zM922 632h3v1h-3zM928 632h3v1h-3zM934 632h3v1h-3zM1162 632h2v1h-2zM1222 632h3v1h-3zM1228 632h3v1h-3zM1234 632h3v1h-3zM820 655h2v1h-2zM856 655h2v1h-2zM364 623h3v1h-3zM617 623h2v1h-2zM652 623h2v1h-2zM1090 623h3v1h-3zM1096 623h3v1h-3zM1102 623h3v1h-3zM1108 623h3v1h-3zM1114 623h3v1h-3zM1120 623h3v1h-3zM1126 623h3v1h-3zM1132 623h3v1h-3zM46 619h2v1h-2zM346 619h2v1h-2zM148 590h3v1h-3zM335 618h2v1h-2zM340 618h2v1h-2zM407 637h2v1h-2zM412 637h3v1h-3zM418 637h3v1h-3zM898 637h3v1h-3zM965 637h2v1h-2zM16 627h3v1h-3zM377 627h2v1h-2zM455 627h2v1h-2zM460 627h2v1h-2zM514 627h3v1h-3zM598 627h3v1h-3zM1150 627h2v1h-2zM77 606h2v1h-2zM82 606h2v1h-2zM305 606h2v1h-2zM383 629h2v1h-2zM448 629h2v1h-2zM526 629h3v1h-3zM532 629h2v1h-2zM581 629h2v1h-2zM586 629h3v1h-3zM748 629h3v1h-3zM754 629h3v1h-3zM760 629h3v1h-3zM1018 629h2v1h-2zM1324 629h3v1h-3zM1330 629h3v1h-3zM1336 629h2v1h-2zM1384 629h3v1h-3zM29 625h2v1h-2zM371 625h2v1h-2zM610 625h2v1h-2zM1030 625h3v1h-3zM1049 625h2v1h-2zM1054 625h3v1h-3zM1060 625h2v1h-2zM1066 625h3v1h-3zM1072 625h3v1h-3zM1144 625h2v1h-2zM41 621h2v1h-2zM353 621h2v1h-2zM628 621h2v1h-2zM358 622h3v1h-3zM622 622h3v1h-3zM647 622h2v1h-2zM34 624h3v1h-3zM1036 624h3v1h-3zM1042 624h3v1h-3zM1078 624h3v1h-3zM1084 624h3v1h-3zM1138 624h3v1h-3zM394 633h3v1h-3zM940 633h3v1h-3zM946 633h3v1h-3zM1204 633h3v1h-3zM1210 633h3v1h-3zM1216 633h3v1h-3zM796 641h2v1h-2zM982 641h3v1h-3zM988 641h3v1h-3zM809 649h2v1h-2zM142 591h3v1h-3zM893 639h2v1h-2zM970 639h3v1h-3zM179 577h2v1h-2zM196 577h2v1h-2zM430 634h2v1h-2zM778 634h3v1h-3zM910 634h2v1h-2zM952 634h3v1h-3zM1168 634h3v1h-3zM1192 634h3v1h-3zM1198 634h3v1h-3zM868 650h2v1h-2zM124 596h3v1h-3zM130 594h3v1h-3zM239 597h2v1h-2zM244 597h3v1h-3zM256 597h3v1h-3zM262 597h3v1h-3zM268 597h3v1h-3zM274 597h3v1h-3zM815 652h2v1h-2zM863 652h2v1h-2zM155 587h2v1h-2zM976 640h3v1h-3zM994 640h3v1h-3zM112 601h3v1h-3zM292 601h2v1h-2zM784 636h3v1h-3zM52 616h2v1h-2zM329 616h2v1h-2zM88 605h3v1h-3zM94 605h3v1h-3zM634 620h3v1h-3zM640 620h3v1h-3zM184 576h3v1h-3zM190 576h2v1h-2zM232 595h3v1h-3zM802 645h2v1h-2zM880 645h2v1h-2zM875 647h2v1h-2zM136 593h2v1h-2zM845 659h2v1h-2zM197 578h2v1h-2zM790 638h2v1h-2zM1000 638h3v1h-3zM64 610h2v1h-2zM202 580h2v1h-2zM70 608h2v1h-2zM310 608h2v1h-2zM167 582h2v1h-2zM886 642h3v1h-3zM850 657h3v1h-3zM59 612h2v1h-2zM215 586h2v1h-2zM209 583h2v1h-2zM316 611h3v1h-3zM161 585h2v1h-2zM226 592h2v1h-2zM323 614h2v1h-2zM826 658h2v1h-2zM1048 624h1v1h-1zM370 624h1v1h-1zM76 607h1v1h-1zM166 583h1v1h-1zM84 605h1v1h-1zM972 640h1v1h-1zM382 628h1v1h-1zM630 620h1v1h-1zM964 636h1v1h-1zM192 577h1v1h-1zM222 590h1v1h-1zM1152 628h1v1h-1zM172 580h1v1h-1zM150 589h1v1h-1zM352 620h1v1h-1zM424 636h1v1h-1zM814 651h1v1h-1zM870 649h1v1h-1zM298 603h1v1h-1zM646 621h1v1h-1zM580 630h1v1h-1zM376 626h1v1h-1zM432 633h1v1h-1zM72 607h1v1h-1zM1338 628h1v1h-1zM768 631h1v1h-1zM328 615h1v1h-1zM138 592h1v1h-1zM154 588h1v1h-1zM220 588h1v1h-1zM874 648h1v1h-1zM48 618h1v1h-1zM348 620h1v1h-1zM312 609h1v1h-1zM58 613h1v1h-1zM342 619h1v1h-1zM858 654h1v1h-1zM208 582h1v1h-1zM322 613h1v1h-1zM804 646h1v1h-1zM462 626h1v1h-1zM54 615h1v1h-1zM892 640h1v1h-1zM798 642h1v1h-1zM334 617h1v1h-1zM28 626h1v1h-1zM1062 626h1v1h-1zM844 660h1v1h-1zM100 605h1v1h-1zM862 653h1v1h-1zM654 624h1v1h-1zM808 648h1v1h-1zM822 656h1v1h-1zM238 596h1v1h-1zM616 624h1v1h-1zM221 589h1v1h-1zM304 605h1v1h-1zM1164 633h1v1h-1zM1020 628h1v1h-1zM534 630h1v1h-1zM214 585h1v1h-1zM454 628h1v1h-1zM40 622h1v1h-1zM406 636h1v1h-1zM1246 631h1v1h-1zM558 630h1v1h-1zM160 586h1v1h-1zM612 624h1v1h-1zM442 631h1v1h-1zM66 609h1v1h-1zM1014 631h1v1h-1zM708 631h1v1h-1zM120 598h1v1h-1zM1006 636h1v1h-1zM1012 633h1v1h-1zM178 578h1v1h-1zM1013 632h1v1h-1zM792 639h1v1h-1zM450 628h1v1h-1zM828 659h1v1h-1zM204 581h1v1h-1zM672 631h1v1h-1zM228 593h1v1h-1zM294 602h1v1h-1zM882 644h1v1h-1zM912 633h1v1h-1zM4 629h1v1h-1zM1146 626h1v1h-1zM666 629h1v1h-1zM658 625h1v1h-1z"/>
<path d="M4 711.5H1419M4 762.5H1419" stroke="#c0c0c0" stroke-width="1" stroke-dasharray="3 3" fill="none"/>
<path fill="#1e90ff" d="M25 737h2v1h-2zM420 737h2v1h-2zM503 737h4v1h-4zM530 737h3v1h-3zM685 737h2v1h-2zM695 737h2v1h-2zM733 737h2v1h-2zM739 737h2v1h-2zM1035 737h7v1h-7zM1256 737h7v1h-7zM15 731h2v1h-2zM287 731h2v1h-2zM626 731h3v1h-3zM722 731h2v1h-2zM1127 731h5v1h-5zM1231 731h2v1h-2zM540 740h2v1h-2zM872 740h3v1h-3zM901 740h2v1h-2zM1048 740h5v1h-5zM350 739h2v1h-2zM353 739h3v1h-3zM416 739h3v1h-3zM728 739h2v1h-2zM870 739h2v1h-2zM903 739h2v1h-2zM1045 739h3v1h-3zM422 736h4v1h-4zM500 736h3v1h-3zM546 736h2v1h-2zM675 736h2v1h-2zM690 736h5v1h-5zM741 736h5v1h-5zM1221 736h2v1h-2zM1308 736h9v1h-9zM296 729h2v1h-2zM330 729h4v1h-4zM630 729h3v1h-3zM987 729h5v1h-5zM1021 729h3v1h-3zM1060 729h5v1h-5zM1081 729h2v1h-2zM1086 729h3v1h-3zM1098 729h3v1h-3zM1320 729h2v1h-2zM95 715h2v1h-2zM179 715h2v1h-2zM269 715h2v1h-2zM596 715h2v1h-2zM619 715h2v1h-2zM365 745h3v1h-3zM645 745h2v1h-2zM854 745h2v1h-2zM859 745h3v1h-3zM920 745h3v1h-3zM952 745h2v1h-2zM976 745h5v1h-5zM1196 745h2v1h-2zM1287 745h2v1h-2zM1387 745h2v1h-2zM1396 745h3v1h-3zM248 709h2v1h-2zM253 709h2v1h-2zM4 724h5v1h-5zM283 724h2v1h-2zM604 724h2v1h-2zM998 724h2v1h-2zM1108 724h5v1h-5zM27 738h2v1h-2zM348 738h2v1h-2zM528 738h2v1h-2zM737 738h2v1h-2zM747 738h3v1h-3zM1033 738h2v1h-2zM1042 738h3v1h-3zM1263 738h3v1h-3zM298 728h7v1h-7zM444 728h2v1h-2zM759 728h2v1h-2zM992 728h2v1h-2zM1019 728h2v1h-2zM1089 728h9v1h-9zM1235 728h2v1h-2zM1275 728h2v1h-2zM1302 728h2v1h-2zM1322 728h2v1h-2zM1328 728h2v1h-2zM1354 728h2v1h-2zM197 721h4v1h-4zM218 721h3v1h-3zM225 721h2v1h-2zM466 732h3v1h-3zM476 732h3v1h-3zM488 732h5v1h-5zM572 732h2v1h-2zM624 732h2v1h-2zM708 732h5v1h-5zM890 732h2v1h-2zM893 732h2v1h-2zM1181 732h2v1h-2zM1229 732h2v1h-2zM60 726h2v1h-2zM83 726h2v1h-2zM441 726h2v1h-2zM995 726h2v1h-2zM1006 726h2v1h-2zM1016 726h2v1h-2zM1239 726h2v1h-2zM1350 726h3v1h-3zM359 735h2v1h-2zM455 735h2v1h-2zM564 735h3v1h-3zM688 735h2v1h-2zM698 735h2v1h-2zM1186 735h2v1h-2zM1223 735h2v1h-2zM41 717h2v1h-2zM122 717h5v1h-5zM172 717h2v1h-2zM187 717h6v1h-6zM266 717h2v1h-2zM612 717h5v1h-5zM1067 717h2v1h-2zM32 706h2v1h-2zM108 706h2v1h-2zM149 706h2v1h-2zM835 752h2v1h-2zM1391 752h2v1h-2zM778 756h3v1h-3zM764 766h2v1h-2zM820 766h5v1h-5zM320 733h2v1h-2zM451 733h2v1h-2zM459 733h5v1h-5zM479 733h2v1h-2zM569 733h3v1h-3zM574 733h3v1h-3zM895 733h2v1h-2zM1227 733h2v1h-2zM1244 733h2v1h-2zM392 753h3v1h-3zM784 753h2v1h-2zM837 753h2v1h-2zM1368 753h2v1h-2zM368 746h2v1h-2zM512 746h3v1h-3zM665 746h2v1h-2zM856 746h3v1h-3zM923 746h2v1h-2zM954 746h2v1h-2zM1280 746h3v1h-3zM1399 746h2v1h-2zM36 716h5v1h-5zM55 716h2v1h-2zM181 716h2v1h-2zM203 716h2v1h-2zM617 716h2v1h-2zM828 749h3v1h-3zM195 720h2v1h-2zM221 720h2v1h-2zM279 720h2v1h-2zM1072 720h5v1h-5zM19 723h2v1h-2zM210 723h2v1h-2zM213 723h3v1h-3zM484 723h2v1h-2zM606 723h3v1h-3zM1113 723h2v1h-2zM1119 723h2v1h-2zM43 718h2v1h-2zM69 718h5v1h-5zM91 718h2v1h-2zM120 718h2v1h-2zM127 718h2v1h-2zM184 718h3v1h-3zM370 747h3v1h-3zM648 747h3v1h-3zM660 747h5v1h-5zM932 747h3v1h-3zM1372 747h2v1h-2zM916 743h2v1h-2zM949 743h2v1h-2zM972 743h2v1h-2zM1170 743h3v1h-3zM1202 743h3v1h-3zM1213 743h2v1h-2zM1291 743h2v1h-2zM313 727h4v1h-4zM340 727h4v1h-4zM756 727h3v1h-3zM1236 727h3v1h-3zM1273 727h2v1h-2zM1324 727h4v1h-4zM32 705h2v1h-2zM110 705h2v1h-2zM151 705h6v1h-6zM163 705h4v1h-4zM637 744h8v1h-8zM668 744h2v1h-2zM852 744h2v1h-2zM862 744h3v1h-3zM918 744h3v1h-3zM926 744h2v1h-2zM951 744h2v1h-2zM974 744h2v1h-2zM1198 744h4v1h-4zM1215 744h2v1h-2zM1252 744h2v1h-2zM1284 744h3v1h-3zM1289 744h2v1h-2zM12 730h3v1h-3zM324 730h6v1h-6zM334 730h4v1h-4zM408 730h2v1h-2zM447 730h2v1h-2zM628 730h2v1h-2zM720 730h2v1h-2zM1024 730h4v1h-4zM1083 730h3v1h-3zM1100 730h5v1h-5zM1124 730h3v1h-3zM1331 730h2v1h-2zM395 754h2v1h-2zM782 754h2v1h-2zM786 754h2v1h-2zM1138 754h5v1h-5zM1152 754h5v1h-5zM453 734h2v1h-2zM457 734h2v1h-2zM567 734h3v1h-3zM586 734h2v1h-2zM884 734h5v1h-5zM908 734h4v1h-4zM1184 734h2v1h-2zM1225 734h2v1h-2zM1246 734h2v1h-2zM1338 734h2v1h-2zM538 741h2v1h-2zM875 741h6v1h-6zM1167 741h2v1h-2zM373 748h2v1h-2zM651 748h9v1h-9zM935 748h2v1h-2zM1374 748h3v1h-3zM77 722h2v1h-2zM131 722h2v1h-2zM216 722h2v1h-2zM1115 722h4v1h-4zM771 770h2v1h-2zM833 751h2v1h-2zM99 719h2v1h-2zM276 719h3v1h-3zM1070 719h2v1h-2zM380 755h2v1h-2zM776 755h2v1h-2zM1136 755h2v1h-2zM810 771h5v1h-5zM48 725h2v1h-2zM62 725h2v1h-2zM81 725h2v1h-2zM471 725h2v1h-2zM1344 725h6v1h-6zM795 763h2v1h-2zM242 710h6v1h-6zM255 710h6v1h-6zM793 762h2v1h-2zM964 762h5v1h-5zM176 714h3v1h-3zM271 714h2v1h-2zM598 714h3v1h-3zM536 742h2v1h-2zM680 742h2v1h-2zM947 742h2v1h-2zM1211 742h2v1h-2zM769 769h2v1h-2zM137 713h4v1h-4zM114 702h3v1h-3zM250 708h3v1h-3zM111 704h2v1h-2zM157 704h2v1h-2zM161 704h2v1h-2zM167 704h2v1h-2zM831 750h2v1h-2zM808 772h2v1h-2zM238 712h2v1h-2zM240 711h2v1h-2zM159 703h2v1h-2zM766 767h2v1h-2zM960 767h2v1h-2zM803 778h2v1h-2zM849 741h1v1h-1zM306 730h1v2h-1zM590 727h1v3h-1zM404 736h1v3h-1zM362 739h1v2h-1zM1176 735h1v2h-1zM1179 732h1v1h-1zM982 740h1v2h-1zM465 733h1v1h-1zM1148 762h1v2h-1zM446 729h1v1h-1zM146 713h1v3h-1zM925 745h1v1h-1zM229 722h1v1h-1zM1294 737h1v2h-1zM898 737h1v2h-1zM1361 736h1v2h-1zM1054 736h1v2h-1zM29 724h1v9h-1zM958 756h1v5h-1zM647 746h1v1h-1zM1278 735h1v5h-1zM290 727h1v2h-1zM764 763h1v3h-1zM116 701h1v1h-1zM556 734h1v2h-1zM761 735h1v8h-1zM439 726h1v1h-1zM595 716h1v2h-1zM105 709h1v2h-1zM701 735h1v1h-1zM93 717h1v1h-1zM970 749h1v6h-1zM408 729h1v1h-1zM825 759h1v4h-1zM1205 744h1v1h-1zM776 756h1v2h-1zM419 738h1v1h-1zM51 720h1v2h-1zM336 731h1v1h-1zM962 765h1v2h-1zM986 732h1v2h-1zM473 726h1v2h-1zM806 775h1v1h-1zM120 716h1v2h-1zM621 719h1v3h-1zM1206 745h1v1h-1zM487 728h1v3h-1zM727 737h1v2h-1zM86 723h1v1h-1zM715 736h1v1h-1zM134 717h1v3h-1zM673 739h1v2h-1zM677 737h1v2h-1zM1365 747h1v2h-1zM59 723h1v2h-1zM864 743h1v1h-1zM1293 739h1v2h-1zM969 755h1v5h-1zM635 739h1v3h-1zM17 727h1v2h-1zM563 733h1v1h-1zM1251 741h1v3h-1zM1243 730h1v2h-1zM716 737h1v1h-1zM28 733h1v5h-1zM708 733h1v1h-1zM591 724h1v3h-1zM906 736h1v1h-1zM521 736h1v2h-1zM624 730h1v2h-1zM272 715h1v1h-1zM824 763h1v3h-1zM564 734h1v1h-1zM21 724h1v4h-1zM848 740h1v1h-1zM552 741h1v1h-1zM753 731h1v2h-1zM1255 739h1v2h-1zM525 732h1v2h-1zM700 734h1v1h-1zM494 736h1v2h-1zM23 732h1v4h-1zM943 748h1v1h-1zM66 722h1v1h-1zM817 770h1v1h-1zM1395 747h1v1h-1zM169 707h1v3h-1zM526 734h1v1h-1zM431 725h1v2h-1zM1144 756h1v2h-1zM559 731h1v1h-1zM746 737h1v1h-1zM1343 727h1v2h-1zM399 751h1v1h-1zM16 729h1v2h-1zM119 711h1v5h-1zM602 718h1v3h-1zM434 727h1v2h-1zM1133 736h1v6h-1zM380 756h1v1h-1zM517 743h1v2h-1zM36 715h1v1h-1zM36 717h1v1h-1zM100 720h1v1h-1zM882 737h1v1h-1zM897 735h1v2h-1zM403 739h1v4h-1zM309 732h1v1h-1zM206 718h1v2h-1zM844 747h1v2h-1zM498 738h1v1h-1zM981 742h1v2h-1zM1012 721h1v1h-1zM1193 742h1v1h-1zM867 738h1v2h-1zM207 720h1v1h-1zM1277 730h1v5h-1zM282 722h1v2h-1zM589 730h1v2h-1zM427 731h1v2h-1zM1122 726h1v2h-1zM620 716h1v3h-1zM1320 730h1v1h-1zM1342 729h1v2h-1zM1194 743h1v1h-1zM130 720h1v2h-1zM775 758h1v4h-1zM1152 755h1v1h-1zM347 735h1v2h-1zM358 736h1v1h-1zM1364 744h1v3h-1zM286 728h1v2h-1zM1183 733h1v1h-1zM1175 737h1v2h-1zM1136 754h1v1h-1zM1136 756h1v1h-1zM632 728h1v1h-1zM632 730h1v1h-1zM913 737h1v2h-1zM391 751h1v2h-1zM551 740h1v1h-1zM760 729h1v6h-1zM264 719h1v1h-1zM1220 737h1v1h-1zM843 749h1v2h-1zM957 751h1v5h-1zM361 736h1v3h-1zM50 722h1v2h-1zM289 729h1v2h-1zM594 718h1v2h-1zM1107 725h1v1h-1zM438 727h1v2h-1zM1147 761h1v1h-1zM730 738h1v1h-1zM104 711h1v2h-1zM407 731h1v1h-1zM31 707h1v9h-1zM931 746h1v1h-1zM305 729h1v1h-1zM168 705h1v2h-1zM544 736h1v1h-1zM774 762h1v3h-1zM985 734h1v2h-1zM763 752h1v11h-1zM1269 732h1v2h-1zM805 776h1v2h-1zM483 724h1v3h-1zM1300 728h1v1h-1zM433 725h1v2h-1zM236 714h1v1h-1zM142 716h1v1h-1zM183 717h1v1h-1zM1216 743h1v1h-1zM726 735h1v2h-1zM905 737h1v2h-1zM520 738h1v2h-1zM1166 742h1v1h-1zM58 720h1v3h-1zM281 721h1v1h-1zM801 774h1v2h-1zM847 741h1v2h-1zM749 737h1v1h-1zM384 752h1v1h-1zM30 716h1v8h-1zM1265 739h1v1h-1zM145 716h1v2h-1zM939 745h1v1h-1zM1402 744h1v1h-1zM1379 742h1v2h-1zM20 722h1v1h-1zM1394 748h1v2h-1zM263 717h1v2h-1zM1018 727h1v1h-1zM346 732h1v3h-1zM524 731h1v1h-1zM118 707h1v4h-1zM912 735h1v2h-1zM1163 745h1v1h-1zM684 738h1v1h-1zM516 745h1v2h-1zM1372 748h1v1h-1zM634 735h1v4h-1zM1250 739h1v2h-1zM536 741h1v1h-1zM528 737h1v1h-1zM141 714h1v2h-1zM1146 759h1v2h-1zM623 726h1v4h-1zM1000 723h1v1h-1zM133 720h1v2h-1zM604 723h1v1h-1zM1292 741h1v2h-1zM1158 751h1v2h-1zM8 725h1v1h-1zM201 719h1v2h-1zM1057 732h1v1h-1zM1132 732h1v4h-1zM672 741h1v1h-1zM1151 756h1v2h-1zM1254 741h1v2h-1zM956 747h1v4h-1zM1121 724h1v2h-1zM475 730h1v1h-1zM601 716h1v2h-1zM205 717h1v1h-1zM703 737h1v1h-1zM171 714h1v3h-1zM725 734h1v1h-1zM1219 738h1v2h-1zM410 731h1v1h-1zM68 720h1v1h-1zM285 726h1v2h-1zM915 741h1v2h-1zM402 743h1v3h-1zM1295 734h1v3h-1zM1280 745h1v1h-1zM1280 747h1v1h-1zM486 726h1v2h-1zM800 772h1v2h-1zM411 732h1v1h-1zM1106 726h1v2h-1zM1064 728h1v1h-1zM1064 730h1v1h-1zM425 734h1v2h-1zM1276 729h1v1h-1zM262 714h1v3h-1zM311 730h1v1h-1zM869 738h1v1h-1zM228 723h1v1h-1zM963 763h1v2h-1zM535 740h1v1h-1zM493 734h1v2h-1zM827 750h1v4h-1zM1337 735h1v1h-1zM274 717h1v1h-1zM323 731h1v1h-1zM881 738h1v2h-1zM338 729h1v1h-1zM53 718h1v1h-1zM555 736h1v1h-1zM558 732h1v1h-1zM588 732h1v2h-1zM850 742h1v1h-1zM107 707h1v1h-1zM148 707h1v3h-1zM307 732h1v1h-1zM398 752h1v1h-1zM22 728h1v4h-1zM474 728h1v2h-1zM88 721h1v1h-1zM603 721h1v2h-1zM1169 742h1v1h-1zM851 743h1v1h-1zM675 737h1v1h-1zM360 734h1v1h-1zM781 755h1v1h-1zM1135 748h1v6h-1zM1378 744h1v2h-1zM581 739h1v1h-1zM1283 745h1v1h-1zM842 751h1v2h-1zM144 718h1v2h-1zM542 738h1v1h-1zM971 744h1v5h-1zM762 743h1v9h-1zM164 706h1v1h-1zM1317 734h1v2h-1zM19 724h1v1h-1zM60 725h1v1h-1zM752 733h1v1h-1zM755 729h1v1h-1zM523 732h1v2h-1zM11 728h1v2h-1zM103 713h1v2h-1zM170 710h1v4h-1zM732 736h1v1h-1zM1015 724h1v2h-1zM724 732h1v2h-1zM406 732h1v2h-1zM1207 746h1v1h-1zM34 709h1v3h-1zM273 716h1v1h-1zM705 737h1v1h-1zM914 739h1v2h-1zM819 768h1v1h-1zM984 736h1v2h-1zM224 720h1v1h-1zM1268 734h1v1h-1zM348 737h1v1h-1zM804 779h1v1h-1zM231 719h1v1h-1zM482 727h1v2h-1zM1279 740h1v5h-1zM288 732h1v1h-1zM212 724h1v1h-1zM57 718h1v2h-1zM1363 741h1v3h-1zM1336 734h1v1h-1zM49 724h1v1h-1zM527 735h1v2h-1zM1233 730h1v1h-1zM959 761h1v5h-1zM519 740h1v1h-1zM508 739h1v2h-1zM428 729h1v2h-1zM511 744h1v2h-1zM826 754h1v5h-1zM345 730h1v2h-1zM1161 747h1v1h-1zM846 743h1v2h-1zM960 766h1v1h-1zM960 768h1v2h-1zM944 749h1v2h-1zM386 750h1v1h-1zM889 733h1v1h-1zM481 729h1v3h-1zM702 736h1v1h-1zM1003 727h1v1h-1zM622 722h1v4h-1zM1393 750h1v2h-1zM1385 747h1v1h-1zM1134 742h1v6h-1zM223 719h1v1h-1zM600 715h1v1h-1zM204 715h1v1h-1zM1188 736h1v1h-1zM497 739h1v1h-1zM1195 744h1v1h-1zM515 747h1v1h-1zM1013 722h1v1h-1zM1164 744h1v1h-1zM799 770h1v2h-1zM994 727h1v1h-1zM208 721h1v1h-1zM1014 723h1v1h-1zM1066 721h1v4h-1zM610 719h1v2h-1zM33 707h1v2h-1zM284 725h1v1h-1zM803 777h1v1h-1zM440 725h1v1h-1zM147 710h1v3h-1zM485 724h1v2h-1zM117 703h1v4h-1zM443 727h1v1h-1zM1059 730h1v1h-1zM56 717h1v1h-1zM1150 758h1v2h-1zM1271 729h1v2h-1zM807 773h1v2h-1zM1249 736h1v3h-1zM401 746h1v3h-1zM507 738h1v1h-1zM841 753h1v2h-1zM1029 733h1v2h-1zM633 731h1v4h-1zM235 715h1v1h-1zM667 745h1v1h-1zM1002 725h1v2h-1zM193 718h1v1h-1zM1356 729h1v1h-1zM751 734h1v2h-1zM1105 728h1v2h-1zM102 715h1v2h-1zM469 729h1v1h-1zM143 717h1v1h-1zM292 724h1v1h-1zM1005 727h1v1h-1zM773 765h1v4h-1zM1267 735h1v2h-1zM10 727h1v1h-1zM1067 718h1v3h-1zM1401 745h1v1h-1zM136 714h1v1h-1zM1123 728h1v1h-1zM1165 743h1v1h-1zM1009 724h1v1h-1zM287 730h1v1h-1zM113 703h1v1h-1zM802 776h1v1h-1zM719 731h1v2h-1zM413 734h1v2h-1zM90 719h1v1h-1zM561 731h1v1h-1zM268 716h1v1h-1zM416 740h1v1h-1zM310 731h1v1h-1zM1157 753h1v1h-1zM1377 746h1v2h-1zM1160 748h1v2h-1zM583 737h1v1h-1zM363 741h1v3h-1zM845 745h1v2h-1zM1369 752h1v1h-1zM772 769h1v1h-1zM772 771h1v1h-1zM1078 724h1v2h-1zM1306 731h1v2h-1zM1389 747h1v2h-1zM261 712h1v2h-1zM52 719h1v1h-1zM344 728h1v2h-1zM1362 738h1v3h-1zM1392 753h1v1h-1zM576 734h1v1h-1zM85 724h1v2h-1zM203 717h1v1h-1zM671 742h1v1h-1zM97 716h1v2h-1zM674 738h1v1h-1zM1028 731h1v2h-1zM947 743h1v2h-1zM318 730h1v2h-1zM1001 724h1v1h-1zM1065 725h1v3h-1zM1218 740h1v1h-1zM98 718h1v1h-1zM9 726h1v1h-1zM1396 746h1v1h-1zM697 736h1v1h-1zM405 734h1v2h-1zM48 726h1v1h-1zM1297 731h1v1h-1zM1180 731h1v1h-1zM313 728h1v1h-1zM230 720h1v2h-1zM1191 740h1v1h-1zM44 719h1v1h-1zM636 742h1v2h-1zM484 722h1v1h-1zM798 767h1v3h-1zM400 749h1v2h-1zM1053 738h1v2h-1zM880 740h1v1h-1zM518 741h1v2h-1zM412 733h1v1h-1zM883 735h1v2h-1zM1304 729h1v1h-1zM579 738h1v2h-1zM1031 737h1v2h-1zM499 737h1v1h-1zM1209 744h1v1h-1zM1077 722h1v2h-1zM1305 730h1v1h-1zM1388 746h1v1h-1zM510 742h1v2h-1zM260 711h1v1h-1zM928 743h1v1h-1zM541 739h1v1h-1zM1358 731h1v2h-1zM135 715h1v2h-1zM522 734h1v2h-1zM609 721h1v1h-1zM1248 735h1v1h-1zM317 728h1v2h-1zM35 712h1v3h-1zM754 730h1v1h-1zM294 726h1v2h-1zM233 717h1v1h-1zM377 751h1v2h-1zM476 731h1v1h-1zM704 738h1v1h-1zM67 721h1v1h-1zM47 724h1v1h-1zM560 730h1v1h-1zM1376 749h1v1h-1zM768 768h1v1h-1zM548 737h1v1h-1zM1368 754h1v1h-1zM449 731h1v1h-1zM791 759h1v2h-1zM430 727h1v1h-1zM415 737h1v2h-1zM388 748h1v1h-1zM32 703h1v2h-1zM74 719h1v1h-1zM1080 727h1v2h-1zM464 734h1v1h-1zM1308 735h1v1h-1zM275 718h1v1h-1zM1383 746h1v2h-1zM578 736h1v2h-1zM1030 735h1v2h-1zM968 760h1v2h-1zM308 733h1v1h-1zM495 738h1v2h-1zM24 736h1v1h-1zM468 730h1v2h-1zM1384 748h1v1h-1zM509 741h1v1h-1zM980 744h1v1h-1zM320 734h1v1h-1zM866 740h1v1h-1zM707 734h1v1h-1zM1190 738h1v2h-1zM1380 741h1v1h-1zM1319 731h1v1h-1zM1174 739h1v2h-1zM1004 728h1v1h-1zM293 725h1v1h-1zM1371 749h1v2h-1zM357 737h1v1h-1zM472 724h1v1h-1zM1270 731h1v1h-1zM65 723h1v1h-1zM816 771h1v1h-1zM172 718h1v1h-1zM1178 733h1v1h-1zM946 745h1v2h-1zM237 713h1v1h-1zM582 738h1v1h-1zM1307 733h1v2h-1zM1390 749h1v2h-1zM364 744h1v1h-1zM1076 721h1v1h-1zM1079 726h1v1h-1zM1296 732h1v2h-1zM1391 751h1v1h-1zM577 735h1v1h-1zM1069 718h1v1h-1zM1403 743h1v1h-1zM1266 737h1v1h-1zM748 739h1v1h-1zM1011 722h1v1h-1zM46 722h1v2h-1zM319 732h1v1h-1zM194 719h1v1h-1zM1357 730h1v1h-1zM175 715h1v1h-1zM383 753h1v1h-1zM1189 737h1v1h-1zM339 728h1v1h-1zM426 733h1v1h-1zM718 733h1v2h-1zM593 720h1v2h-1zM938 746h1v1h-1zM80 724h1v1h-1zM312 729h1v1h-1zM1367 751h1v2h-1zM585 735h1v1h-1zM376 750h1v1h-1zM554 737h1v2h-1zM209 722h1v1h-1zM437 729h1v1h-1zM790 758h1v1h-1zM1159 750h1v1h-1zM54 717h1v1h-1zM1124 729h1v1h-1zM680 743h1v1h-1zM1162 746h1v1h-1zM828 748h1v1h-1zM839 754h1v1h-1zM1333 731h1v1h-1zM414 736h1v1h-1zM797 765h1v2h-1zM202 718h1v1h-1zM1208 745h1v1h-1zM1334 732h1v1h-1zM18 725h1v2h-1zM69 719h1v1h-1zM820 767h1v1h-1zM907 735h1v1h-1zM1056 733h1v1h-1zM899 739h1v2h-1zM471 726h1v1h-1zM375 749h1v1h-1zM608 722h1v1h-1zM1360 734h1v2h-1zM942 747h1v1h-1zM983 738h1v2h-1zM1341 731h1v1h-1zM900 741h1v1h-1zM232 718h1v1h-1zM1143 755h1v1h-1zM45 720h1v2h-1zM316 726h1v1h-1zM683 739h1v1h-1zM945 747h1v2h-1zM789 756h1v2h-1zM300 727h1v1h-1zM687 736h1v1h-1zM679 740h1v2h-1zM562 732h1v1h-1zM94 716h1v1h-1zM1242 728h1v2h-1zM543 737h1v1h-1zM106 708h1v1h-1zM1318 732h1v2h-1zM1173 741h1v2h-1zM941 745h1v2h-1zM1299 729h1v1h-1zM87 722h1v1h-1zM1382 744h1v2h-1zM756 728h1v1h-1zM796 764h1v1h-1zM987 730h1v2h-1zM1353 727h1v1h-1zM580 740h1v1h-1zM390 750h1v1h-1zM1032 739h1v1h-1zM611 718h1v1h-1zM706 735h1v2h-1zM717 735h1v2h-1zM76 721h1v1h-1zM592 722h1v2h-1zM79 723h1v1h-1zM1253 743h1v1h-1zM896 734h1v1h-1zM436 730h1v2h-1zM1359 733h1v1h-1zM930 745h1v1h-1zM1234 729h1v1h-1zM295 728h1v1h-1zM429 728h1v1h-1zM713 733h1v2h-1zM1192 741h1v1h-1zM378 753h1v1h-1zM64 724h1v1h-1zM815 772h1v1h-1zM788 755h1v1h-1zM387 749h1v1h-1zM557 733h1v1h-1zM1330 729h1v1h-1zM714 735h1v1h-1zM1366 749h1v2h-1zM379 754h1v1h-1zM1177 734h1v1h-1zM129 719h1v1h-1zM549 738h1v1h-1zM1386 746h1v1h-1zM1104 731h1v1h-1zM101 717h1v2h-1zM1241 727h1v1h-1zM865 741h1v2h-1zM322 732h1v1h-1zM550 739h1v1h-1zM291 725h1v2h-1zM676 735h1v1h-1zM397 753h1v1h-1zM385 751h1v1h-1zM1340 732h1v2h-1zM929 744h1v1h-1zM75 720h1v1h-1zM1381 742h1v2h-1zM972 742h1v1h-1zM553 739h1v2h-1zM892 731h1v1h-1zM682 740h1v2h-1zM356 738h1v1h-1zM265 718h1v1h-1zM818 769h1v1h-1zM736 739h1v1h-1zM432 724h1v1h-1zM1344 726h1v1h-1zM435 729h1v1h-1zM1272 728h1v1h-1zM937 747h1v1h-1zM731 737h1v1h-1zM584 736h1v1h-1zM352 740h1v1h-1zM1149 760h1v2h-1zM728 740h1v1h-1zM450 732h1v1h-1zM1172 744h1v1h-1zM678 739h1v1h-1zM1055 734h1v2h-1zM792 761h1v1h-1zM1058 731h1v1h-1zM470 727h1v2h-1zM389 749h1v1h-1zM1217 741h1v2h-1zM1252 745h1v1h-1zM750 736h1v1h-1zM132 723h1v1h-1zM496 740h1v1h-1zM1010 723h1v1h-1zM480 732h1v1h-1zM940 744h1v1h-1zM227 722h1v1h-1zM174 716h1v1h-1zM1145 758h1v1h-1zM382 754h1v1h-1zM492 733h1v1h-1zM1370 751h1v1h-1zM1256 738h1v1h-1zM997 725h1v1h-1zM545 735h1v1h-1zM1008 725h1v1h-1zM1301 727h1v1h-1zM89 720h1v1h-1zM1210 743h1v1h-1zM488 731h1v1h-1zM1244 732h1v1h-1zM533 738h1v1h-1zM1298 730h1v1h-1zM840 755h1v1h-1zM868 737h1v1h-1zM670 743h1v1h-1zM234 716h1v1h-1zM534 739h1v1h-1zM735 738h1v1h-1zM1335 733h1v1h-1z"/>
</svg>
<div class="tk" style="top:33px"></div><div class="ax" style="top:28.6px">6.96925</div>
<div class="tk" style="top:66px"></div><div class="ax" style="top:61.6px">6.95440</div>
<div class="tk" style="top:99px"></div><div class="ax" style="top:94.6px">6.93955</div>
<div class="tk" style="top:132px"></div><div class="ax" style="top:127.6px">6.92425</div>
<div class="tk" style="top:165px"></div><div class="ax" style="top:160.6px">6.90940</div>
<div class="tk" style="top:198px"></div><div class="ax" style="top:193.6px">6.89455</div>
<div class="tk" style="top:231px"></div><div class="ax" style="top:226.6px">6.87925</div>
<div class="tk" style="top:264px"></div><div class="ax" style="top:259.6px">6.86440</div>
<div class="tk" style="top:297px"></div><div class="ax" style="top:292.6px">6.84955</div>
<div class="tk" style="top:330px"></div><div class="ax" style="top:325.6px">6.83470</div>
<div class="tk" style="top:363px"></div><div class="ax" style="top:358.6px">6.81940</div>
<div class="tk" style="top:396px"></div><div class="ax" style="top:391.6px">6.80455</div>
<div class="tk" style="top:429px"></div><div class="ax" style="top:424.6px">6.78970</div>
<div class="tk" style="top:462px"></div><div class="ax" style="top:457.6px">6.77440</div>
<div class="tk" style="top:495px"></div><div class="ax" style="top:490.6px">6.75955</div>
<div class="tk" style="top:528px"></div><div class="ax" style="top:523.6px">6.74470</div>
<div class="tk" style="top:561px"></div><div class="ax" style="top:556.6px">6.72985</div>
<div class="ax" style="left:1423px;top:568.6px">0.034174</div>
<div class="ax" style="left:1423px;top:625.7px">0.00</div>
<div class="ax" style="left:1423px;top:657.9px">-0.021296</div>
<div class="ax" style="left:1422.6px;top:673.7px">100</div>
<div class="ax" style="left:1422.6px;top:706.6px">70</div>
<div class="ax" style="left:1422.6px;top:757.5px">30</div>
<div class="ax" style="left:1422.6px;top:789.6px">0</div>
<div class="tk" style="top:568px;width:1px"></div>
<div class="tk" style="top:630px;width:1px"></div>
<div class="tk" style="top:668px;width:1px"></div>
<div class="tk" style="top:673px;width:1px"></div>
<div class="tk" style="top:800px;width:1px"></div>
<div class="pl" style="top:47px;background:#ff0000"><span>6.96044</span></div>
<div class="pl" style="top:178px;background:#00ff00"><span>6.90100</span></div>
<div class="pl" style="top:238px;background:#000000"><span>6.87390</span></div>
<div class="pl" style="top:354px;background:#0000ff"><span>6.82103</span></div>
<div class="pl" style="top:492px;background:#0000ff"><span>6.75804</span></div>
<div class="tt" style="left:4px"></div><div class="tl" style="left:3px">2 May 2019</div>
<div class="tt" style="left:68px"></div><div class="tl" style="left:67px">7 May 12:00</div>
<div class="tt" style="left:132px"></div><div class="tl" style="left:131px">10 May 04:00</div>
<div class="tt" style="left:196px"></div><div class="tl" style="left:195px">15 May 00:00</div>
<div class="tt" style="left:260px"></div><div class="tl" style="left:259px">17 May 16:00</div>
<div class="tt" style="left:324px"></div><div class="tl" style="left:323px">22 May 12:00</div>
<div class="tt" style="left:388px"></div><div class="tl" style="left:387px">27 May 08:00</div>
<div class="tt" style="left:452px"></div><div class="tl" style="left:451px">30 May 00:00</div>
<div class="tt" style="left:516px"></div><div class="tl" style="left:515px">3 Jun 20:00</div>
<div class="tt" style="left:580px"></div><div class="tl" style="left:579px">6 Jun 12:00</div>
<div class="tt" style="left:644px"></div><div class="tl" style="left:643px">11 Jun 08:00</div>
<div class="tt" style="left:708px"></div><div class="tl" style="left:707px">14 Jun 00:00</div>
<div class="tt" style="left:772px"></div><div class="tl" style="left:771px">18 Jun 20:00</div>
<div class="tt" style="left:836px"></div><div class="tl" style="left:835px">21 Jun 12:00</div>
<div class="tt" style="left:900px"></div><div class="tl" style="left:899px">26 Jun 08:00</div>
<div class="tt" style="left:964px"></div><div class="tl" style="left:963px">1 Jul 04:00</div>
<div class="tt" style="left:1028px"></div><div class="tl" style="left:1027px">3 Jul 20:00</div>
<div class="tt" style="left:1092px"></div><div class="tl" style="left:1091px">8 Jul 16:00</div>
<div class="tt" style="left:1156px"></div><div class="tl" style="left:1155px">11 Jul 08:00</div>
<div class="tt" style="left:1220px"></div><div class="tl" style="left:1219px">16 Jul 04:00</div>
<div class="tt" style="left:1284px"></div><div class="tl" style="left:1283px">18 Jul 20:00</div>
<div class="tt" style="left:1348px"></div><div class="tl" style="left:1347px">23 Jul 16:00</div>
<div class="lbl" style="left:19.1px;top:28.8px;font-size:9.64px">USDCNH-,H4</div>
<div class="lbl" style="left:83.4px;top:28.8px;font-size:9.2px;word-spacing:0.6px">6.87202 6.87527 6.87174 6.87390</div>
<svg class="abs" style="left:6px;top:30px" width="9" height="6"><path d="M0.5 5.5 L4.5 1 L8.5 5.5 Z" fill="#000"/></svg>
<div class="lbl" style="left:8.5px;top:570.7px">MACD(12,26,9) -0.001857 -0.001334</div>
<div class="lbl" style="left:8.5px;top:675.6px;font-size:9.15px">RSI(14) 45.6920</div>
<div class="abs" style="left:0;top:822px;width:1462px;height:1px;background:#dcdcdc"></div>
<div class="abs" style="left:0;top:824px;width:1462px;height:1px;background:#0a0a0a"></div>
<div class="abs" style="left:0;top:826px;width:1462px;height:18px;background:#f0f0f0"></div>
<div class="abs" style="left:0;top:846px;width:1462px;height:1px;background:#ececec"></div>
<div class="abs" style="left:0;top:847px;width:1462px;height:2px;background:#a6a6a6"></div>
<div class="abs" style="left:0;top:825px;width:1px;height:18px;background:#505050"></div>
<div class="tab" style="left:16.4px;letter-spacing:0px">EURUSD-,Daily</div>
<div class="tab" style="left:123px;letter-spacing:0.23px">AUDUSD-,Daily</div>
<div class="tab" style="left:233px;letter-spacing:0px">USDCHF-,Daily</div>
<div class="tab" style="left:340px;letter-spacing:0px">USDCAD-,Daily</div>
<div class="abs" style="left:437px;top:824px;width:100px;height:19px;background:#fff;border:1px solid #000;border-top:none;box-sizing:border-box"></div>
<div class="tab" style="left:449px;color:#000">USDCNH-,H4</div>
<div class="tab" style="left:548px;letter-spacing:0px">EURCHF-,Weekly</div>
<div class="tab" style="left:669px;letter-spacing:0.2px">XAUUSD-,Weekly</div>
<div class="tab" style="left:792px;letter-spacing:0px">GBPUSD-,H1</div>
<div class="tab" style="left:888px;letter-spacing:0.4px">UKOil-,H1</div>
<div class="tab" style="left:967px;letter-spacing:0.33px">USDX-,Weekly</div>
<div class="sep" style="left:113px"></div>
<div class="sep" style="left:221px"></div>
<div class="sep" style="left:329px"></div>
<div class="sep" style="left:657px"></div>
<div class="sep" style="left:781px"></div>
<div class="sep" style="left:877px"></div>
<div class="sep" style="left:957px"></div>
<div class="sep" style="left:1061px"></div>
<svg class="abs" style="left:1430px;top:826px" width="32" height="14"><path d="M9 3 L9 11 L5 7 Z" fill="#7a7a7a"/><path d="M24 3 L24 11 L28 7 Z" fill="#7a7a7a"/></svg>
<div class="abs" style="left:6px;top:45px;width:221px;height:64px;background:#fff"></div>
<div class="abs" style="left:7px;top:45px;width:52px;height:25px;background:linear-gradient(#5454f4,#3c3ce2);border:1px solid #2020c0;border-bottom:none;box-sizing:border-box"></div>
<div class="abs" style="left:7px;top:69px;width:109px;height:40px;background:linear-gradient(#3c3ce2 0%,#2626d0 38%,#0c0cb6 75%,#0505a8 100%);border:1px solid #2020c0;border-top:none;box-sizing:border-box"></div>
<div class="abs" style="left:59px;top:69px;width:57px;height:1px;background:#2020c0"></div>
<div class="abs" style="left:174px;top:45px;width:52px;height:25px;background:linear-gradient(#5454f4,#3c3ce2);border:1px solid #2020c0;border-bottom:none;box-sizing:border-box"></div>
<div class="abs" style="left:118px;top:69px;width:108px;height:40px;background:linear-gradient(#3c3ce2 0%,#2626d0 38%,#0c0cb6 75%,#0505a8 100%);border:1px solid #2020c0;border-top:none;box-sizing:border-box"></div>
<div class="abs" style="left:118px;top:69px;width:57px;height:1px;background:#2020c0"></div>
<div class="abs" style="left:11px;top:68px;width:44px;height:1px;background:#1c1cb0"></div>
<div class="abs" style="left:11px;top:69px;width:44px;height:1px;background:#7070f0"></div>
<div class="abs" style="left:178px;top:68px;width:44px;height:1px;background:#1c1cb0"></div>
<div class="abs" style="left:178px;top:69px;width:44px;height:1px;background:#7070f0"></div>
<div class="abs" style="left:19.3px;top:51.3px;font-size:11px;line-height:13px;color:#fff;letter-spacing:-0.3px;transform:scaleY(1.08);transform-origin:0 50%">SELL</div>
<div class="abs" style="left:187.5px;top:51.3px;font-size:11px;line-height:13px;color:#fff;transform:scaleY(1.08);transform-origin:0 50%">BUY</div>
<!-- spinner -->
<div class="abs" style="left:61px;top:45px;width:111px;height:22px;background:#fff;border:1px solid #a0a0a0;box-sizing:border-box"></div>
<div class="abs" style="left:62px;top:46px;width:20px;height:20px;background:linear-gradient(#f2f2f2 0%,#e8e8e8 45%,#d4d4d4 50%,#cfcfcf 100%);border:1px solid #b8b8b8;border-left:none;box-sizing:border-box"></div>
<div class="abs" style="left:151px;top:46px;width:20px;height:20px;background:linear-gradient(#f2f2f2 0%,#e8e8e8 45%,#d4d4d4 50%,#cfcfcf 100%);border:1px solid #b8b8b8;border-right:none;box-sizing:border-box"></div>
<svg class="abs" style="left:68px;top:53px" width="8" height="5"><path d="M0.5 0.5h7l-3.5 4z" fill="#4a5fb0"/></svg>
<svg class="abs" style="left:157px;top:53px" width="8" height="5"><path d="M0.5 4.5h7l-3.5 -4z" fill="#4a5fb0"/></svg>
<div class="abs" style="left:100px;top:49px;width:46.5px;text-align:right;font-size:12px;line-height:14px;color:#000">1.00</div>
<!-- prices -->
<div class="abs" style="left:27px;top:88.5px;font-size:11.5px;font-weight:bold;line-height:14px;color:#fff">6.87</div>
<div class="abs" style="left:55.5px;top:68px;font-size:35px;line-height:40px;color:#fff;transform:scaleX(0.85);transform-origin:0 0">39</div>
<div class="abs" style="left:94.3px;top:72.3px;font-size:12.5px;font-weight:bold;line-height:14px;color:#fff">0</div>
<div class="abs" style="left:137.5px;top:88.5px;font-size:11.5px;font-weight:bold;line-height:14px;color:#fff">6.87</div>
<div class="abs" style="left:166.5px;top:68px;font-size:35px;line-height:40px;color:#fff;transform:scaleX(0.85);transform-origin:0 0">60</div>
<div class="abs" style="left:204.8px;top:72.3px;font-size:12.5px;font-weight:bold;line-height:14px;color:#fff">9</div>

</body></html>
